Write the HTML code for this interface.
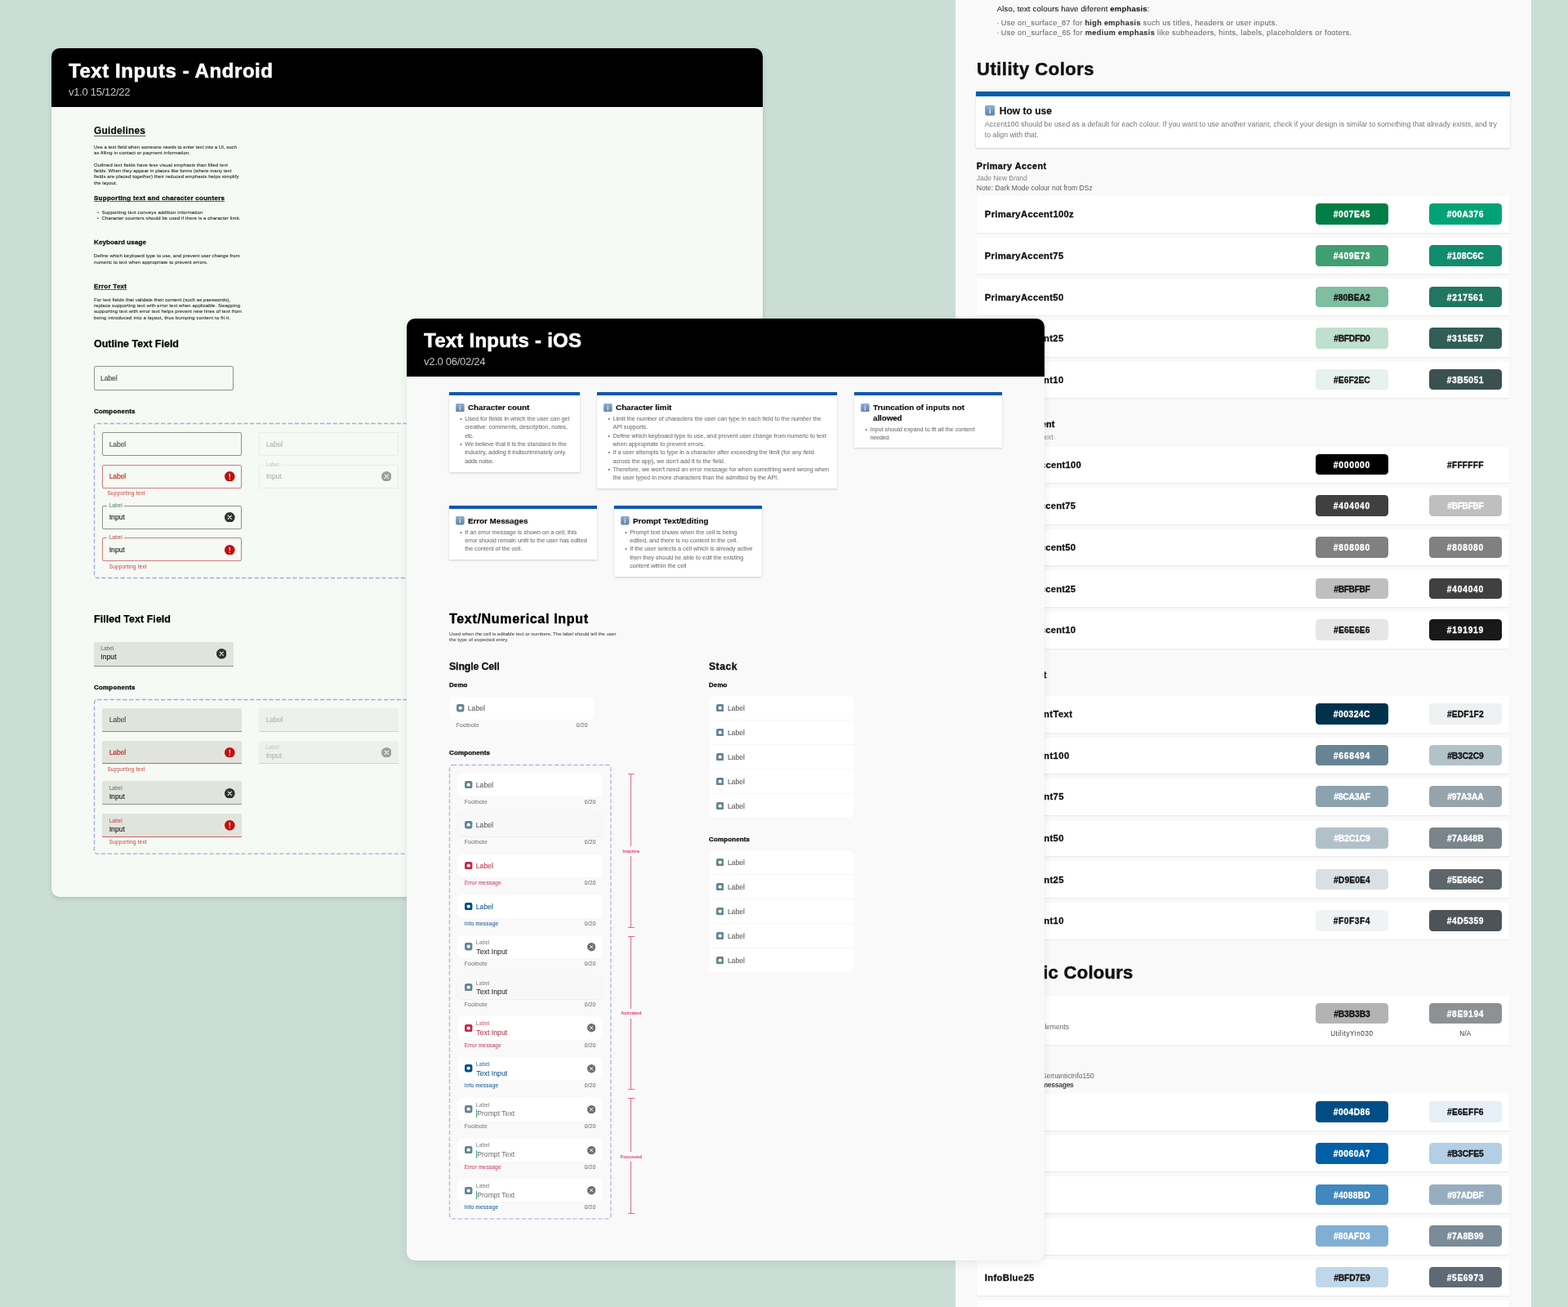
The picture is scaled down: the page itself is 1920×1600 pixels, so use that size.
<!DOCTYPE html>
<html lang="en"><head><meta charset="utf-8"><title>Text Inputs</title>
<style>
html,body{margin:0;padding:0}
body{width:1920px;height:1600px;position:relative;overflow:hidden;background:#caded5;font-family:"Liberation Sans",Arial,sans-serif;-webkit-font-smoothing:antialiased}
.panel{position:absolute;overflow:hidden}
.abs{position:absolute}
</style></head><body>

<div class="panel" style="left:63px;top:59px;width:871px;height:1039px;border-radius:10px;background:#f5faf4;box-shadow:0 2px 5px rgba(40,60,50,.18)">
<div style="position:absolute;left:-63px;top:-59px;width:1920px;height:1600px">
<div style="position:absolute;left:63.00px;top:59.00px;width:871.00px;height:72.00px;box-sizing:border-box;background:#000;"></div>
<div style="position:absolute;top:75.00px;font-size:24.00px;line-height:1;white-space:nowrap;color:#fff;letter-spacing:0.568px;font-weight:700;left:84.00px;-webkit-text-stroke:0.55px #fff;">Text Inputs - Android</div>
<div style="position:absolute;top:106.00px;font-size:13.00px;line-height:1;white-space:nowrap;color:#c4c4c4;letter-spacing:-0.274px;left:84.00px;">v1.0 15/12/22</div>
<div style="position:absolute;top:154.00px;font-size:12.00px;line-height:1;white-space:nowrap;color:#111;letter-spacing:0.184px;font-weight:700;left:115.00px;text-decoration:underline;text-decoration-thickness:1px;text-underline-offset:1.5px;text-decoration-color:rgba(0,0,0,.65);-webkit-text-stroke:0.2px #111;">Guidelines</div>
<div style="position:absolute;top:177.00px;font-size:6.00px;line-height:1;white-space:nowrap;color:#2b2d2a;letter-spacing:0.024px;left:115.00px;-webkit-text-stroke:0.10px #2b2d2a;">Use a text field when someone needs to enter text into a UI, such</div><div style="position:absolute;top:184.00px;font-size:6.00px;line-height:1;white-space:nowrap;color:#2b2d2a;letter-spacing:0.097px;left:115.00px;-webkit-text-stroke:0.10px #2b2d2a;">as filling in contact or payment information.</div><div style="position:absolute;top:199.00px;font-size:6.00px;line-height:1;white-space:nowrap;color:#2b2d2a;letter-spacing:0.074px;left:115.00px;-webkit-text-stroke:0.10px #2b2d2a;">Outlined text fields have less visual emphasis than filled text</div><div style="position:absolute;top:206.00px;font-size:6.00px;line-height:1;white-space:nowrap;color:#2b2d2a;letter-spacing:0.029px;left:115.00px;-webkit-text-stroke:0.10px #2b2d2a;">fields. When they appear in places like forms (where many text</div><div style="position:absolute;top:213.00px;font-size:6.00px;line-height:1;white-space:nowrap;color:#2b2d2a;letter-spacing:0.100px;left:115.00px;-webkit-text-stroke:0.10px #2b2d2a;">fields are placed together) their reduced emphasis helps simplify</div><div style="position:absolute;top:221.00px;font-size:6.00px;line-height:1;white-space:nowrap;color:#2b2d2a;letter-spacing:0.081px;left:115.00px;-webkit-text-stroke:0.10px #2b2d2a;">the layout.</div>
<div style="position:absolute;top:239.00px;font-size:8.00px;line-height:1;white-space:nowrap;color:#111;letter-spacing:0.275px;font-weight:700;left:115.00px;-webkit-text-stroke:0.30px #111;text-decoration:underline;text-decoration-thickness:1px;text-underline-offset:1px;text-decoration-color:rgba(0,0,0,.6);">Supporting text and character counters</div>
<div style="position:absolute;top:258.00px;font-size:5.80px;line-height:1;white-space:nowrap;color:#2a2c29;left:119.00px;">•</div>
<div style="position:absolute;top:265.00px;font-size:5.80px;line-height:1;white-space:nowrap;color:#2a2c29;left:119.00px;">•</div>
<div style="position:absolute;top:257.00px;font-size:6.00px;line-height:1;white-space:nowrap;color:#2b2d2a;letter-spacing:0.138px;left:124.40px;-webkit-text-stroke:0.10px #2b2d2a;">Supporting text conveys addition information</div><div style="position:absolute;top:264.00px;font-size:6.00px;line-height:1;white-space:nowrap;color:#2b2d2a;letter-spacing:0.078px;left:124.40px;-webkit-text-stroke:0.10px #2b2d2a;">Character counters should be used if there is a character limit.</div>
<div style="position:absolute;top:293.00px;font-size:8.00px;line-height:1;white-space:nowrap;color:#111;letter-spacing:0.135px;font-weight:700;left:115.00px;-webkit-text-stroke:0.30px #111;">Keyboard usage</div>
<div style="position:absolute;top:310.00px;font-size:6.00px;line-height:1;white-space:nowrap;color:#2b2d2a;letter-spacing:0.058px;left:115.00px;-webkit-text-stroke:0.10px #2b2d2a;">Define which keyboard type to use, and prevent user change from</div><div style="position:absolute;top:318.00px;font-size:6.00px;line-height:1;white-space:nowrap;color:#2b2d2a;letter-spacing:0.095px;left:115.00px;-webkit-text-stroke:0.10px #2b2d2a;">numeric to text when appropriate to prevent errors.</div>
<div style="position:absolute;top:347.00px;font-size:8.00px;line-height:1;white-space:nowrap;color:#111;letter-spacing:0.262px;font-weight:700;left:115.00px;-webkit-text-stroke:0.30px #111;text-decoration:underline;text-decoration-thickness:1px;text-underline-offset:1px;text-decoration-color:rgba(0,0,0,.6);">Error Text</div>
<div style="position:absolute;top:364.00px;font-size:6.00px;line-height:1;white-space:nowrap;color:#2b2d2a;letter-spacing:0.062px;left:115.00px;-webkit-text-stroke:0.10px #2b2d2a;">For text fields that validate their content (such as passwords),</div><div style="position:absolute;top:371.00px;font-size:6.00px;line-height:1;white-space:nowrap;color:#2b2d2a;letter-spacing:0.092px;left:115.00px;-webkit-text-stroke:0.10px #2b2d2a;">replace supporting text with error text when applicable. Swapping</div><div style="position:absolute;top:378.00px;font-size:6.00px;line-height:1;white-space:nowrap;color:#2b2d2a;letter-spacing:0.113px;left:115.00px;-webkit-text-stroke:0.10px #2b2d2a;">supporting text with error text helps prevent new lines of text from</div><div style="position:absolute;top:386.00px;font-size:6.00px;line-height:1;white-space:nowrap;color:#2b2d2a;letter-spacing:0.138px;left:115.00px;-webkit-text-stroke:0.10px #2b2d2a;">being introduced into a layout, thus bumping content to fit it.</div>
<div style="position:absolute;top:415.00px;font-size:12.50px;line-height:1;white-space:nowrap;color:#000;letter-spacing:0.003px;font-weight:700;left:115.00px;-webkit-text-stroke:0.25px #000;">Outline Text Field</div>
<div style="position:absolute;left:115.00px;top:448.20px;width:171.00px;height:29.40px;box-sizing:border-box;border:1px solid #8b948d;border-radius:2px;"></div>
<div style="position:absolute;top:459.00px;font-size:8.60px;line-height:1;white-space:nowrap;color:#4a4f4b;letter-spacing:-0.111px;left:123.00px;-webkit-text-stroke:0.15px #4a4f4b;">Label</div>
<div style="position:absolute;top:500.00px;font-size:8.00px;line-height:1;white-space:nowrap;color:#111;letter-spacing:0.179px;font-weight:700;left:115.00px;-webkit-text-stroke:0.30px #111;">Components</div>
<svg class="abs" style="left:115.00px;top:518.40px;overflow:visible" width="420.00" height="190.00"><rect x="0.5" y="0.5" width="419.00" height="189.00" rx="3.5" fill="none" stroke="#aea8dc" stroke-width="1.35" stroke-dasharray="5.3 2.5"/></svg>
<div style="position:absolute;left:125.40px;top:529.30px;width:170.40px;height:28.90px;box-sizing:border-box;border:1px solid #8b948d;border-radius:2px;"></div><div style="position:absolute;top:540.00px;font-size:8.60px;line-height:1;white-space:nowrap;color:#4a4f4b;letter-spacing:-0.111px;left:133.70px;-webkit-text-stroke:0.12px #4a4f4b;">Label</div>
<div style="position:absolute;left:125.40px;top:568.80px;width:170.40px;height:28.90px;box-sizing:border-box;border:1px solid #d27a7d;border-radius:2px;"></div><div style="position:absolute;top:579.00px;font-size:8.60px;line-height:1;white-space:nowrap;color:#b3261e;letter-spacing:-0.111px;left:133.70px;-webkit-text-stroke:0.12px #b3261e;">Label</div>
<svg class="abs" style="left:275.20px;top:576.90px;opacity:1" width="12.60" height="12.60" viewBox="0 0 20 20"><circle cx="10" cy="10" r="10" fill="#c1100f"/><rect x="9.05" y="4.4" width="1.9" height="7.4" rx="0.9" fill="#fff0f0"/><circle cx="10" cy="14.7" r="1.2" fill="#ffe4e4"/></svg>
<div style="position:absolute;top:601.00px;font-size:6.40px;line-height:1;white-space:nowrap;color:#c4403c;letter-spacing:0.211px;left:131.40px;">Supporting text</div>
<div style="position:absolute;left:125.40px;top:618.80px;width:170.40px;height:28.90px;box-sizing:border-box;border:1px solid #8b948d;border-radius:2px;"></div><div style="position:absolute;left:130.80px;top:617.80px;width:21.60px;height:3.00px;box-sizing:border-box;background:#f5faf4;"></div><div style="position:absolute;top:616.00px;font-size:6.50px;line-height:1;white-space:nowrap;color:#3d7f5c;letter-spacing:0.024px;left:133.70px;">Label</div><div style="position:absolute;top:629.00px;font-size:8.60px;line-height:1;white-space:nowrap;color:#1d1f1c;letter-spacing:0.043px;left:133.70px;-webkit-text-stroke:0.15px #1d1f1c;">Input</div>
<svg class="abs" style="left:275.20px;top:626.90px;opacity:1" width="12.60" height="12.60" viewBox="0 0 20 20"><circle cx="10" cy="10" r="10" fill="#2f3430"/><path d="M6.6 6.6 L13.4 13.4 M13.4 6.6 L6.6 13.4" stroke="#fff" stroke-width="1.6" stroke-linecap="round" fill="none"/></svg>
<div style="position:absolute;left:125.40px;top:658.40px;width:170.40px;height:28.90px;box-sizing:border-box;border:1px solid #d27a7d;border-radius:2px;"></div><div style="position:absolute;left:130.80px;top:657.40px;width:21.60px;height:3.00px;box-sizing:border-box;background:#f5faf4;"></div><div style="position:absolute;top:655.00px;font-size:6.50px;line-height:1;white-space:nowrap;color:#c4403c;letter-spacing:0.024px;left:133.70px;">Label</div><div style="position:absolute;top:669.00px;font-size:8.60px;line-height:1;white-space:nowrap;color:#1d1f1c;letter-spacing:0.043px;left:133.70px;-webkit-text-stroke:0.15px #1d1f1c;">Input</div>
<svg class="abs" style="left:275.20px;top:666.50px;opacity:1" width="12.60" height="12.60" viewBox="0 0 20 20"><circle cx="10" cy="10" r="10" fill="#c1100f"/><rect x="9.05" y="4.4" width="1.9" height="7.4" rx="0.9" fill="#fff0f0"/><circle cx="10" cy="14.7" r="1.2" fill="#ffe4e4"/></svg>
<div style="position:absolute;top:691.00px;font-size:6.40px;line-height:1;white-space:nowrap;color:#c4403c;letter-spacing:0.211px;left:133.70px;">Supporting text</div>
<div style="position:absolute;left:317.40px;top:529.30px;width:170.40px;height:28.90px;box-sizing:border-box;border:1px solid #e9ece7;border-radius:2px;"></div><div style="position:absolute;top:540.00px;font-size:8.60px;line-height:1;white-space:nowrap;color:#b2b5b1;letter-spacing:-0.111px;left:325.70px;-webkit-text-stroke:0.12px #b2b5b1;">Label</div>
<div style="position:absolute;left:317.40px;top:568.80px;width:170.40px;height:28.90px;box-sizing:border-box;border:1px solid #e9ece7;border-radius:2px;"></div><div style="position:absolute;left:322.80px;top:567.80px;width:21.60px;height:3.00px;box-sizing:border-box;background:#f5faf4;"></div><div style="position:absolute;top:566.00px;font-size:6.50px;line-height:1;white-space:nowrap;color:#c0c3bf;letter-spacing:0.024px;left:325.70px;">Label</div><div style="position:absolute;top:579.00px;font-size:8.60px;line-height:1;white-space:nowrap;color:#b2b5b1;letter-spacing:0.043px;left:325.70px;-webkit-text-stroke:0.15px #b2b5b1;">Input</div>
<svg class="abs" style="left:466.90px;top:576.90px;opacity:1" width="12.60" height="12.60" viewBox="0 0 20 20"><circle cx="10" cy="10" r="10" fill="#9da19d"/><path d="M6.6 6.6 L13.4 13.4 M13.4 6.6 L6.6 13.4" stroke="#fff" stroke-width="1.6" stroke-linecap="round" fill="none"/></svg>
<div style="position:absolute;top:752.00px;font-size:12.50px;line-height:1;white-space:nowrap;color:#000;letter-spacing:0.029px;font-weight:700;left:115.00px;-webkit-text-stroke:0.25px #000;">Filled Text Field</div>
<div style="position:absolute;left:115.00px;top:785.60px;width:171.00px;height:30.00px;box-sizing:border-box;background:#e0e4dd;border-bottom:1.4px solid #8c938d;border-radius:2px 2px 0 0;"></div><div style="position:absolute;top:791.00px;font-size:6.50px;line-height:1;white-space:nowrap;color:#3d7f5c;letter-spacing:0.024px;left:123.30px;">Label</div><div style="position:absolute;top:800.00px;font-size:8.60px;line-height:1;white-space:nowrap;color:#1d1f1c;letter-spacing:0.043px;left:123.30px;-webkit-text-stroke:0.15px #1d1f1c;">Input</div>
<svg class="abs" style="left:264.90px;top:794.20px;opacity:1" width="12.60" height="12.60" viewBox="0 0 20 20"><circle cx="10" cy="10" r="10" fill="#2f3430"/><path d="M6.6 6.6 L13.4 13.4 M13.4 6.6 L6.6 13.4" stroke="#fff" stroke-width="1.6" stroke-linecap="round" fill="none"/></svg>
<div style="position:absolute;top:838.00px;font-size:8.00px;line-height:1;white-space:nowrap;color:#111;letter-spacing:0.179px;font-weight:700;left:115.00px;-webkit-text-stroke:0.30px #111;">Components</div>
<svg class="abs" style="left:115.00px;top:856.20px;overflow:visible" width="420.00" height="189.60"><rect x="0.5" y="0.5" width="419.00" height="188.60" rx="3.5" fill="none" stroke="#aea8dc" stroke-width="1.35" stroke-dasharray="5.3 2.5"/></svg>
<div style="position:absolute;left:125.40px;top:867.00px;width:170.40px;height:28.90px;box-sizing:border-box;background:#e0e4dd;border-bottom:1.4px solid #8c938d;border-radius:2px 2px 0 0;"></div><div style="position:absolute;top:877.00px;font-size:8.60px;line-height:1;white-space:nowrap;color:#4a4f4b;letter-spacing:-0.111px;left:133.70px;-webkit-text-stroke:0.12px #4a4f4b;">Label</div>
<div style="position:absolute;left:125.40px;top:906.60px;width:170.40px;height:28.90px;box-sizing:border-box;background:#e0e4dd;border-bottom:1.4px solid #d2605e;border-radius:2px 2px 0 0;"></div><div style="position:absolute;top:917.00px;font-size:8.60px;line-height:1;white-space:nowrap;color:#b3261e;letter-spacing:-0.111px;left:133.70px;-webkit-text-stroke:0.12px #b3261e;">Label</div>
<svg class="abs" style="left:275.20px;top:914.50px;opacity:1" width="12.60" height="12.60" viewBox="0 0 20 20"><circle cx="10" cy="10" r="10" fill="#c1100f"/><rect x="9.05" y="4.4" width="1.9" height="7.4" rx="0.9" fill="#fff0f0"/><circle cx="10" cy="14.7" r="1.2" fill="#ffe4e4"/></svg>
<div style="position:absolute;top:939.00px;font-size:6.40px;line-height:1;white-space:nowrap;color:#c4403c;letter-spacing:0.211px;left:131.40px;">Supporting text</div>
<div style="position:absolute;left:125.40px;top:956.40px;width:170.40px;height:28.90px;box-sizing:border-box;background:#e0e4dd;border-bottom:1.4px solid #8c938d;border-radius:2px 2px 0 0;"></div><div style="position:absolute;top:962.00px;font-size:6.50px;line-height:1;white-space:nowrap;color:#3d7f5c;letter-spacing:0.024px;left:133.70px;">Label</div><div style="position:absolute;top:971.00px;font-size:8.60px;line-height:1;white-space:nowrap;color:#1d1f1c;letter-spacing:0.043px;left:133.70px;-webkit-text-stroke:0.15px #1d1f1c;">Input</div>
<svg class="abs" style="left:275.20px;top:964.50px;opacity:1" width="12.60" height="12.60" viewBox="0 0 20 20"><circle cx="10" cy="10" r="10" fill="#2f3430"/><path d="M6.6 6.6 L13.4 13.4 M13.4 6.6 L6.6 13.4" stroke="#fff" stroke-width="1.6" stroke-linecap="round" fill="none"/></svg>
<div style="position:absolute;left:125.40px;top:996.00px;width:170.40px;height:28.90px;box-sizing:border-box;background:#e0e4dd;border-bottom:1.4px solid #d2605e;border-radius:2px 2px 0 0;"></div><div style="position:absolute;top:1002.00px;font-size:6.50px;line-height:1;white-space:nowrap;color:#c4403c;letter-spacing:0.024px;left:133.70px;">Label</div><div style="position:absolute;top:1011.00px;font-size:8.60px;line-height:1;white-space:nowrap;color:#1d1f1c;letter-spacing:0.043px;left:133.70px;-webkit-text-stroke:0.15px #1d1f1c;">Input</div>
<svg class="abs" style="left:275.20px;top:1004.10px;opacity:1" width="12.60" height="12.60" viewBox="0 0 20 20"><circle cx="10" cy="10" r="10" fill="#c1100f"/><rect x="9.05" y="4.4" width="1.9" height="7.4" rx="0.9" fill="#fff0f0"/><circle cx="10" cy="14.7" r="1.2" fill="#ffe4e4"/></svg>
<div style="position:absolute;top:1028.00px;font-size:6.40px;line-height:1;white-space:nowrap;color:#c4403c;letter-spacing:0.211px;left:133.70px;">Supporting text</div>
<div style="position:absolute;left:317.40px;top:867.00px;width:170.40px;height:28.90px;box-sizing:border-box;background:#eef1eb;border-bottom:1.4px solid #d0d4cf;border-radius:2px 2px 0 0;"></div><div style="position:absolute;top:877.00px;font-size:8.60px;line-height:1;white-space:nowrap;color:#b2b5b1;letter-spacing:-0.111px;left:325.70px;-webkit-text-stroke:0.12px #b2b5b1;">Label</div>
<div style="position:absolute;left:317.40px;top:906.60px;width:170.40px;height:28.90px;box-sizing:border-box;background:#eef1eb;border-bottom:1.4px solid #d0d4cf;border-radius:2px 2px 0 0;"></div><div style="position:absolute;top:912.00px;font-size:6.50px;line-height:1;white-space:nowrap;color:#c0c3bf;letter-spacing:0.024px;left:325.70px;">Label</div><div style="position:absolute;top:921.00px;font-size:8.60px;line-height:1;white-space:nowrap;color:#b2b5b1;letter-spacing:0.043px;left:325.70px;-webkit-text-stroke:0.15px #b2b5b1;">Input</div>
<svg class="abs" style="left:466.90px;top:914.50px;opacity:1" width="12.60" height="12.60" viewBox="0 0 20 20"><circle cx="10" cy="10" r="10" fill="#9da19d"/><path d="M6.6 6.6 L13.4 13.4 M13.4 6.6 L6.6 13.4" stroke="#fff" stroke-width="1.6" stroke-linecap="round" fill="none"/></svg>
</div></div>
<div class="panel" style="left:1170px;top:0;width:705px;height:1600px;background:#f9f9f9">
<div style="position:absolute;left:-1170px;top:0;width:1920px;height:1600px">
<div style="position:absolute;left:1220.80px;top:6.00px;font-size:9.60px;line-height:1;white-space:pre;color:#222;letter-spacing:0.142px;-webkit-text-stroke:0.10px currentColor;">Also, text colours have diferent <span style="font-weight:700;color:#1a1a1a;">emphasis</span>:</div>
<div style="position:absolute;top:24.00px;font-size:9.30px;line-height:1;white-space:nowrap;color:#6e6e6e;left:1220.60px;">·</div>
<div style="position:absolute;top:36.00px;font-size:9.30px;line-height:1;white-space:nowrap;color:#6e6e6e;left:1220.60px;">·</div>
<div style="position:absolute;left:1225.80px;top:24.00px;font-size:9.20px;line-height:1;white-space:pre;color:#6e6e6e;letter-spacing:0.322px;-webkit-text-stroke:0.08px currentColor;">Use on_surface_87 for <span style="font-weight:700;color:#333;">high emphasis</span> such us titles, headers or user inputs.</div>
<div style="position:absolute;left:1225.80px;top:36.00px;font-size:9.20px;line-height:1;white-space:pre;color:#6e6e6e;letter-spacing:0.343px;-webkit-text-stroke:0.08px currentColor;">Use on_surface_65 for <span style="font-weight:700;color:#333;">medium emphasis</span> like subheaders, hints, labels, placeholders or footers.</div>
<div style="position:absolute;top:74.00px;font-size:22.00px;line-height:1;white-space:nowrap;color:#111;letter-spacing:0.508px;font-weight:700;left:1196.00px;-webkit-text-stroke:0.50px #111;">Utility Colors</div>
<div style="position:absolute;left:1195.00px;top:112.00px;width:654.30px;height:68.60px;box-sizing:border-box;background:#fff;box-shadow:0 1px 2px rgba(0,0,0,.16);"></div>
<div style="position:absolute;left:1195.00px;top:112.00px;width:654.30px;height:5.50px;box-sizing:border-box;background:#0060a7;"></div>
<svg class="abs" style="left:1205.80px;top:129.20px" width="12.50" height="12.50" viewBox="0 0 20 20"><defs><linearGradient id="ig" x1="0" y1="0" x2="0" y2="1"><stop offset="0" stop-color="#8daccb"/><stop offset="1" stop-color="#5d84ab"/></linearGradient></defs><rect x="0.5" y="0.5" width="19" height="19" rx="3.4" fill="url(#ig)" stroke="#6f93b8" stroke-width="1"/><rect x="8.9" y="7.6" width="2.2" height="8.6" fill="#dbe9f7"/><rect x="8.9" y="3.8" width="2.2" height="2.4" fill="#dbe9f7"/></svg>
<div style="position:absolute;top:130.00px;font-size:12.10px;line-height:1;white-space:nowrap;color:#111;letter-spacing:-0.026px;font-weight:700;left:1223.70px;-webkit-text-stroke:0.15px #111;">How to use</div>
<div style="position:absolute;top:148.00px;font-size:8.90px;line-height:1;white-space:nowrap;color:#787878;letter-spacing:-0.014px;left:1205.80px;">Accent100 should be used as a default for each colour. If you want to use another variant, check if your design is similar to something that already exists, and try</div>
<div style="position:absolute;top:161.00px;font-size:8.90px;line-height:1;white-space:nowrap;color:#787878;letter-spacing:-0.044px;left:1205.80px;">to align with that.</div>
<div style="position:absolute;top:198.00px;font-size:10.80px;line-height:1;white-space:nowrap;color:#111;letter-spacing:0.505px;font-weight:700;left:1195.80px;-webkit-text-stroke:0.35px #111;">Primary Accent</div>
<div style="position:absolute;top:214.00px;font-size:8.60px;line-height:1;white-space:nowrap;color:#8a8a8a;letter-spacing:-0.122px;left:1195.80px;">Jade New Brand</div>
<div style="position:absolute;top:226.00px;font-size:8.60px;line-height:1;white-space:nowrap;color:#5a5a5a;letter-spacing:-0.041px;left:1195.80px;">Note: Dark Mode colour not from DSz</div>
<div style="position:absolute;left:1196.30px;top:240.20px;width:652.00px;height:44.60px;box-sizing:border-box;background:#fff;box-shadow:0 1px 1.5px rgba(0,0,0,.065);"></div><div style="position:absolute;top:257.00px;font-size:11.30px;line-height:1;white-space:nowrap;color:#111;letter-spacing:0.295px;font-weight:700;left:1205.80px;-webkit-text-stroke:0.30px #111;">PrimaryAccent100z</div><div style="position:absolute;left:1611.20px;top:249.40px;width:88.40px;height:25.50px;box-sizing:border-box;background:#007E45;border-radius:4.5px;"></div><div style="position:absolute;top:258.00px;font-size:10.30px;line-height:1;white-space:nowrap;color:#fff;letter-spacing:0.560px;font-weight:700;left:1655.40px;transform:translateX(-50%);-webkit-text-stroke:0.30px #fff;">#007E45</div><div style="position:absolute;left:1750.20px;top:249.40px;width:88.40px;height:25.50px;box-sizing:border-box;background:#00A376;border-radius:4.5px;"></div><div style="position:absolute;top:258.00px;font-size:10.30px;line-height:1;white-space:nowrap;color:#fff;letter-spacing:0.465px;font-weight:700;left:1794.40px;transform:translateX(-50%);-webkit-text-stroke:0.30px #fff;">#00A376</div>
<div style="position:absolute;left:1196.30px;top:290.82px;width:652.00px;height:44.60px;box-sizing:border-box;background:#fff;box-shadow:0 1px 1.5px rgba(0,0,0,.065);"></div><div style="position:absolute;top:308.00px;font-size:11.30px;line-height:1;white-space:nowrap;color:#111;letter-spacing:0.290px;font-weight:700;left:1205.80px;-webkit-text-stroke:0.30px #111;">PrimaryAccent75</div><div style="position:absolute;left:1611.20px;top:300.02px;width:88.40px;height:25.50px;box-sizing:border-box;background:#409E73;border-radius:4.5px;"></div><div style="position:absolute;top:309.00px;font-size:10.30px;line-height:1;white-space:nowrap;color:#fff;letter-spacing:0.560px;font-weight:700;left:1655.40px;transform:translateX(-50%);-webkit-text-stroke:0.30px #fff;">#409E73</div><div style="position:absolute;left:1750.20px;top:300.02px;width:88.40px;height:25.50px;box-sizing:border-box;background:#108C6C;border-radius:4.5px;"></div><div style="position:absolute;top:309.00px;font-size:10.30px;line-height:1;white-space:nowrap;color:#fff;letter-spacing:0.180px;font-weight:700;left:1794.40px;transform:translateX(-50%);-webkit-text-stroke:0.30px #fff;">#108C6C</div>
<div style="position:absolute;left:1196.30px;top:341.44px;width:652.00px;height:44.60px;box-sizing:border-box;background:#fff;box-shadow:0 1px 1.5px rgba(0,0,0,.065);"></div><div style="position:absolute;top:359.00px;font-size:11.30px;line-height:1;white-space:nowrap;color:#111;letter-spacing:0.290px;font-weight:700;left:1205.80px;-webkit-text-stroke:0.30px #111;">PrimaryAccent50</div><div style="position:absolute;left:1611.20px;top:350.64px;width:88.40px;height:25.50px;box-sizing:border-box;background:#80BEA2;border-radius:4.5px;"></div><div style="position:absolute;top:360.00px;font-size:10.30px;line-height:1;white-space:nowrap;color:#111;letter-spacing:-0.010px;font-weight:700;left:1655.40px;transform:translateX(-50%);-webkit-text-stroke:0.30px #111;">#80BEA2</div><div style="position:absolute;left:1750.20px;top:350.64px;width:88.40px;height:25.50px;box-sizing:border-box;background:#217561;border-radius:4.5px;"></div><div style="position:absolute;top:360.00px;font-size:10.30px;line-height:1;white-space:nowrap;color:#fff;letter-spacing:0.750px;font-weight:700;left:1794.40px;transform:translateX(-50%);-webkit-text-stroke:0.30px #fff;">#217561</div>
<div style="position:absolute;left:1196.30px;top:392.06px;width:652.00px;height:44.60px;box-sizing:border-box;background:#fff;box-shadow:0 1px 1.5px rgba(0,0,0,.065);"></div><div style="position:absolute;top:409.00px;font-size:11.30px;line-height:1;white-space:nowrap;color:#111;letter-spacing:0.290px;font-weight:700;left:1205.80px;-webkit-text-stroke:0.30px #111;">PrimaryAccent25</div><div style="position:absolute;left:1611.20px;top:401.26px;width:88.40px;height:25.50px;box-sizing:border-box;background:#BFDFD0;border-radius:4.5px;"></div><div style="position:absolute;top:410.00px;font-size:10.30px;line-height:1;white-space:nowrap;color:#111;letter-spacing:-0.293px;font-weight:700;left:1655.40px;transform:translateX(-50%);-webkit-text-stroke:0.30px #111;">#BFDFD0</div><div style="position:absolute;left:1750.20px;top:401.26px;width:88.40px;height:25.50px;box-sizing:border-box;background:#315E57;border-radius:4.5px;"></div><div style="position:absolute;top:410.00px;font-size:10.30px;line-height:1;white-space:nowrap;color:#fff;letter-spacing:0.560px;font-weight:700;left:1794.40px;transform:translateX(-50%);-webkit-text-stroke:0.30px #fff;">#315E57</div>
<div style="position:absolute;left:1196.30px;top:442.68px;width:652.00px;height:44.60px;box-sizing:border-box;background:#fff;box-shadow:0 1px 1.5px rgba(0,0,0,.065);"></div><div style="position:absolute;top:460.00px;font-size:11.30px;line-height:1;white-space:nowrap;color:#111;letter-spacing:0.290px;font-weight:700;left:1205.80px;-webkit-text-stroke:0.30px #111;">PrimaryAccent10</div><div style="position:absolute;left:1611.20px;top:451.88px;width:88.40px;height:25.50px;box-sizing:border-box;background:#E6F2EC;border-radius:4.5px;"></div><div style="position:absolute;top:461.00px;font-size:10.30px;line-height:1;white-space:nowrap;color:#111;letter-spacing:-0.009px;font-weight:700;left:1655.40px;transform:translateX(-50%);-webkit-text-stroke:0.30px #111;">#E6F2EC</div><div style="position:absolute;left:1750.20px;top:451.88px;width:88.40px;height:25.50px;box-sizing:border-box;background:#3B5051;border-radius:4.5px;"></div><div style="position:absolute;top:461.00px;font-size:10.30px;line-height:1;white-space:nowrap;color:#fff;letter-spacing:0.465px;font-weight:700;left:1794.40px;transform:translateX(-50%);-webkit-text-stroke:0.30px #fff;">#3B5051</div>
<div style="position:absolute;top:514.00px;font-size:10.80px;line-height:1;white-space:nowrap;color:#111;letter-spacing:0.111px;font-weight:700;left:1195.80px;-webkit-text-stroke:0.35px #111;">Secondary Accent</div>
<div style="position:absolute;top:531.00px;font-size:8.60px;line-height:1;white-space:nowrap;color:#8a8a8a;letter-spacing:-0.067px;left:1195.80px;">Mainly used for body text</div>
<div style="position:absolute;left:1196.30px;top:546.60px;width:652.00px;height:44.60px;box-sizing:border-box;background:#fff;box-shadow:0 1px 1.5px rgba(0,0,0,.065);"></div><div style="position:absolute;top:564.00px;font-size:11.30px;line-height:1;white-space:nowrap;color:#111;letter-spacing:0.217px;font-weight:700;left:1205.80px;-webkit-text-stroke:0.30px #111;">SecondaryAccent100</div><div style="position:absolute;left:1611.20px;top:555.80px;width:88.40px;height:25.50px;box-sizing:border-box;background:#000000;border-radius:4.5px;"></div><div style="position:absolute;top:565.00px;font-size:10.30px;line-height:1;white-space:nowrap;color:#fff;letter-spacing:0.750px;font-weight:700;left:1655.40px;transform:translateX(-50%);-webkit-text-stroke:0.30px #fff;">#000000</div><div style="position:absolute;left:1750.20px;top:555.80px;width:88.40px;height:25.50px;box-sizing:border-box;background:#FFFFFF;border-radius:4.5px;"></div><div style="position:absolute;top:565.00px;font-size:10.30px;line-height:1;white-space:nowrap;color:#111;letter-spacing:0.187px;font-weight:700;left:1794.40px;transform:translateX(-50%);-webkit-text-stroke:0.30px #111;">#FFFFFF</div>
<div style="position:absolute;left:1196.30px;top:597.22px;width:652.00px;height:44.60px;box-sizing:border-box;background:#fff;box-shadow:0 1px 1.5px rgba(0,0,0,.065);"></div><div style="position:absolute;top:614.00px;font-size:11.30px;line-height:1;white-space:nowrap;color:#111;letter-spacing:0.204px;font-weight:700;left:1205.80px;-webkit-text-stroke:0.30px #111;">SecondaryAccent75</div><div style="position:absolute;left:1611.20px;top:606.42px;width:88.40px;height:25.50px;box-sizing:border-box;background:#404040;border-radius:4.5px;"></div><div style="position:absolute;top:615.00px;font-size:10.30px;line-height:1;white-space:nowrap;color:#fff;letter-spacing:0.750px;font-weight:700;left:1655.40px;transform:translateX(-50%);-webkit-text-stroke:0.30px #fff;">#404040</div><div style="position:absolute;left:1750.20px;top:606.42px;width:88.40px;height:25.50px;box-sizing:border-box;background:#BFBFBF;border-radius:4.5px;"></div><div style="position:absolute;top:615.00px;font-size:10.30px;line-height:1;white-space:nowrap;color:#fff;letter-spacing:-0.387px;font-weight:700;left:1794.40px;transform:translateX(-50%);-webkit-text-stroke:0.30px #fff;">#BFBFBF</div>
<div style="position:absolute;left:1196.30px;top:647.84px;width:652.00px;height:44.60px;box-sizing:border-box;background:#fff;box-shadow:0 1px 1.5px rgba(0,0,0,.065);"></div><div style="position:absolute;top:665.00px;font-size:11.30px;line-height:1;white-space:nowrap;color:#111;letter-spacing:0.204px;font-weight:700;left:1205.80px;-webkit-text-stroke:0.30px #111;">SecondaryAccent50</div><div style="position:absolute;left:1611.20px;top:657.04px;width:88.40px;height:25.50px;box-sizing:border-box;background:#808080;border-radius:4.5px;"></div><div style="position:absolute;top:666.00px;font-size:10.30px;line-height:1;white-space:nowrap;color:#fff;letter-spacing:0.750px;font-weight:700;left:1655.40px;transform:translateX(-50%);-webkit-text-stroke:0.30px #fff;">#808080</div><div style="position:absolute;left:1750.20px;top:657.04px;width:88.40px;height:25.50px;box-sizing:border-box;background:#808080;border-radius:4.5px;"></div><div style="position:absolute;top:666.00px;font-size:10.30px;line-height:1;white-space:nowrap;color:#fff;letter-spacing:0.750px;font-weight:700;left:1794.40px;transform:translateX(-50%);-webkit-text-stroke:0.30px #fff;">#808080</div>
<div style="position:absolute;left:1196.30px;top:698.46px;width:652.00px;height:44.60px;box-sizing:border-box;background:#fff;box-shadow:0 1px 1.5px rgba(0,0,0,.065);"></div><div style="position:absolute;top:716.00px;font-size:11.30px;line-height:1;white-space:nowrap;color:#111;letter-spacing:0.204px;font-weight:700;left:1205.80px;-webkit-text-stroke:0.30px #111;">SecondaryAccent25</div><div style="position:absolute;left:1611.20px;top:707.66px;width:88.40px;height:25.50px;box-sizing:border-box;background:#BFBFBF;border-radius:4.5px;"></div><div style="position:absolute;top:717.00px;font-size:10.30px;line-height:1;white-space:nowrap;color:#111;letter-spacing:-0.387px;font-weight:700;left:1655.40px;transform:translateX(-50%);-webkit-text-stroke:0.30px #111;">#BFBFBF</div><div style="position:absolute;left:1750.20px;top:707.66px;width:88.40px;height:25.50px;box-sizing:border-box;background:#404040;border-radius:4.5px;"></div><div style="position:absolute;top:717.00px;font-size:10.30px;line-height:1;white-space:nowrap;color:#fff;letter-spacing:0.750px;font-weight:700;left:1794.40px;transform:translateX(-50%);-webkit-text-stroke:0.30px #fff;">#404040</div>
<div style="position:absolute;left:1196.30px;top:749.08px;width:652.00px;height:44.60px;box-sizing:border-box;background:#fff;box-shadow:0 1px 1.5px rgba(0,0,0,.065);"></div><div style="position:absolute;top:766.00px;font-size:11.30px;line-height:1;white-space:nowrap;color:#111;letter-spacing:0.204px;font-weight:700;left:1205.80px;-webkit-text-stroke:0.30px #111;">SecondaryAccent10</div><div style="position:absolute;left:1611.20px;top:758.28px;width:88.40px;height:25.50px;box-sizing:border-box;background:#E6E6E6;border-radius:4.5px;"></div><div style="position:absolute;top:767.00px;font-size:10.30px;line-height:1;white-space:nowrap;color:#111;letter-spacing:0.179px;font-weight:700;left:1655.40px;transform:translateX(-50%);-webkit-text-stroke:0.30px #111;">#E6E6E6</div><div style="position:absolute;left:1750.20px;top:758.28px;width:88.40px;height:25.50px;box-sizing:border-box;background:#191919;border-radius:4.5px;"></div><div style="position:absolute;top:767.00px;font-size:10.30px;line-height:1;white-space:nowrap;color:#fff;letter-spacing:0.750px;font-weight:700;left:1794.40px;transform:translateX(-50%);-webkit-text-stroke:0.30px #fff;">#191919</div>
<div style="position:absolute;top:821.00px;font-size:10.80px;line-height:1;white-space:nowrap;color:#111;letter-spacing:0.576px;font-weight:700;left:1195.80px;-webkit-text-stroke:0.35px #111;">Tertiary Accent</div>
<div style="position:absolute;left:1196.30px;top:852.00px;width:652.00px;height:44.60px;box-sizing:border-box;background:#fff;box-shadow:0 1px 1.5px rgba(0,0,0,.065);"></div><div style="position:absolute;top:869.00px;font-size:11.30px;line-height:1;white-space:nowrap;color:#111;letter-spacing:0.383px;font-weight:700;left:1205.80px;-webkit-text-stroke:0.30px #111;">TertiaryAccentText</div><div style="position:absolute;left:1611.20px;top:861.20px;width:88.40px;height:25.50px;box-sizing:border-box;background:#00324C;border-radius:4.5px;"></div><div style="position:absolute;top:870.00px;font-size:10.30px;line-height:1;white-space:nowrap;color:#fff;letter-spacing:0.465px;font-weight:700;left:1655.40px;transform:translateX(-50%);-webkit-text-stroke:0.30px #fff;">#00324C</div><div style="position:absolute;left:1750.20px;top:861.20px;width:88.40px;height:25.50px;box-sizing:border-box;background:#EDF1F2;border-radius:4.5px;"></div><div style="position:absolute;top:870.00px;font-size:10.30px;line-height:1;white-space:nowrap;color:#111;letter-spacing:0.087px;font-weight:700;left:1794.40px;transform:translateX(-50%);-webkit-text-stroke:0.30px #111;">#EDF1F2</div>
<div style="position:absolute;left:1196.30px;top:902.62px;width:652.00px;height:44.60px;box-sizing:border-box;background:#fff;box-shadow:0 1px 1.5px rgba(0,0,0,.065);"></div><div style="position:absolute;top:920.00px;font-size:11.30px;line-height:1;white-space:nowrap;color:#111;letter-spacing:0.391px;font-weight:700;left:1205.80px;-webkit-text-stroke:0.30px #111;">TertiaryAccent100</div><div style="position:absolute;left:1611.20px;top:911.82px;width:88.40px;height:25.50px;box-sizing:border-box;background:#668494;border-radius:4.5px;"></div><div style="position:absolute;top:921.00px;font-size:10.30px;line-height:1;white-space:nowrap;color:#fff;letter-spacing:0.750px;font-weight:700;left:1655.40px;transform:translateX(-50%);-webkit-text-stroke:0.30px #fff;">#668494</div><div style="position:absolute;left:1750.20px;top:911.82px;width:88.40px;height:25.50px;box-sizing:border-box;background:#B3C2C9;border-radius:4.5px;"></div><div style="position:absolute;top:921.00px;font-size:10.30px;line-height:1;white-space:nowrap;color:#111;letter-spacing:-0.105px;font-weight:700;left:1794.40px;transform:translateX(-50%);-webkit-text-stroke:0.30px #111;">#B3C2C9</div>
<div style="position:absolute;left:1196.30px;top:953.24px;width:652.00px;height:44.60px;box-sizing:border-box;background:#fff;box-shadow:0 1px 1.5px rgba(0,0,0,.065);"></div><div style="position:absolute;top:970.00px;font-size:11.30px;line-height:1;white-space:nowrap;color:#111;letter-spacing:0.396px;font-weight:700;left:1205.80px;-webkit-text-stroke:0.30px #111;">TertiaryAccent75</div><div style="position:absolute;left:1611.20px;top:962.44px;width:88.40px;height:25.50px;box-sizing:border-box;background:#8CA3AF;border-radius:4.5px;"></div><div style="position:absolute;top:971.00px;font-size:10.30px;line-height:1;white-space:nowrap;color:#fff;letter-spacing:-0.199px;font-weight:700;left:1655.40px;transform:translateX(-50%);-webkit-text-stroke:0.30px #fff;">#8CA3AF</div><div style="position:absolute;left:1750.20px;top:962.44px;width:88.40px;height:25.50px;box-sizing:border-box;background:#97A3AA;border-radius:4.5px;"></div><div style="position:absolute;top:971.00px;font-size:10.30px;line-height:1;white-space:nowrap;color:#fff;letter-spacing:-0.105px;font-weight:700;left:1794.40px;transform:translateX(-50%);-webkit-text-stroke:0.30px #fff;">#97A3AA</div>
<div style="position:absolute;left:1196.30px;top:1003.86px;width:652.00px;height:44.60px;box-sizing:border-box;background:#fff;box-shadow:0 1px 1.5px rgba(0,0,0,.065);"></div><div style="position:absolute;top:1021.00px;font-size:11.30px;line-height:1;white-space:nowrap;color:#111;letter-spacing:0.396px;font-weight:700;left:1205.80px;-webkit-text-stroke:0.30px #111;">TertiaryAccent50</div><div style="position:absolute;left:1611.20px;top:1013.06px;width:88.40px;height:25.50px;box-sizing:border-box;background:#B2C1C9;border-radius:4.5px;"></div><div style="position:absolute;top:1022.00px;font-size:10.30px;line-height:1;white-space:nowrap;color:#fff;letter-spacing:-0.105px;font-weight:700;left:1655.40px;transform:translateX(-50%);-webkit-text-stroke:0.30px #fff;">#B2C1C9</div><div style="position:absolute;left:1750.20px;top:1013.06px;width:88.40px;height:25.50px;box-sizing:border-box;background:#7A848B;border-radius:4.5px;"></div><div style="position:absolute;top:1022.00px;font-size:10.30px;line-height:1;white-space:nowrap;color:#fff;letter-spacing:0.180px;font-weight:700;left:1794.40px;transform:translateX(-50%);-webkit-text-stroke:0.30px #fff;">#7A848B</div>
<div style="position:absolute;left:1196.30px;top:1054.48px;width:652.00px;height:44.60px;box-sizing:border-box;background:#fff;box-shadow:0 1px 1.5px rgba(0,0,0,.065);"></div><div style="position:absolute;top:1072.00px;font-size:11.30px;line-height:1;white-space:nowrap;color:#111;letter-spacing:0.396px;font-weight:700;left:1205.80px;-webkit-text-stroke:0.30px #111;">TertiaryAccent25</div><div style="position:absolute;left:1611.20px;top:1063.68px;width:88.40px;height:25.50px;box-sizing:border-box;background:#D9E0E4;border-radius:4.5px;"></div><div style="position:absolute;top:1073.00px;font-size:10.30px;line-height:1;white-space:nowrap;color:#111;letter-spacing:0.084px;font-weight:700;left:1655.40px;transform:translateX(-50%);-webkit-text-stroke:0.30px #111;">#D9E0E4</div><div style="position:absolute;left:1750.20px;top:1063.68px;width:88.40px;height:25.50px;box-sizing:border-box;background:#5E666C;border-radius:4.5px;"></div><div style="position:absolute;top:1073.00px;font-size:10.30px;line-height:1;white-space:nowrap;color:#fff;letter-spacing:0.275px;font-weight:700;left:1794.40px;transform:translateX(-50%);-webkit-text-stroke:0.30px #fff;">#5E666C</div>
<div style="position:absolute;left:1196.30px;top:1105.10px;width:652.00px;height:44.60px;box-sizing:border-box;background:#fff;box-shadow:0 1px 1.5px rgba(0,0,0,.065);"></div><div style="position:absolute;top:1122.00px;font-size:11.30px;line-height:1;white-space:nowrap;color:#111;letter-spacing:0.396px;font-weight:700;left:1205.80px;-webkit-text-stroke:0.30px #111;">TertiaryAccent10</div><div style="position:absolute;left:1611.20px;top:1114.30px;width:88.40px;height:25.50px;box-sizing:border-box;background:#F0F3F4;border-radius:4.5px;"></div><div style="position:absolute;top:1123.00px;font-size:10.30px;line-height:1;white-space:nowrap;color:#111;letter-spacing:0.468px;font-weight:700;left:1655.40px;transform:translateX(-50%);-webkit-text-stroke:0.30px #111;">#F0F3F4</div><div style="position:absolute;left:1750.20px;top:1114.30px;width:88.40px;height:25.50px;box-sizing:border-box;background:#4D5359;border-radius:4.5px;"></div><div style="position:absolute;top:1123.00px;font-size:10.30px;line-height:1;white-space:nowrap;color:#fff;letter-spacing:0.465px;font-weight:700;left:1794.40px;transform:translateX(-50%);-webkit-text-stroke:0.30px #fff;">#4D5359</div>
<div style="position:absolute;top:1180.00px;font-size:22.00px;line-height:1;white-space:nowrap;color:#111;letter-spacing:0.284px;font-weight:700;left:1196.00px;-webkit-text-stroke:0.50px #111;">Semantic Colours</div>
<div style="position:absolute;left:1196.30px;top:1218.70px;width:652.00px;height:60.60px;box-sizing:border-box;background:#fff;box-shadow:0 1px 1.5px rgba(0,0,0,.065);"></div><div style="position:absolute;top:1236.00px;font-size:11.30px;line-height:1;white-space:nowrap;color:#111;font-weight:700;left:1205.80px;-webkit-text-stroke:0.30px #111;">Disabled</div><div style="position:absolute;left:1611.20px;top:1227.90px;width:88.40px;height:25.50px;box-sizing:border-box;background:#B3B3B3;border-radius:4.5px;"></div><div style="position:absolute;top:1237.00px;font-size:10.30px;line-height:1;white-space:nowrap;color:#111;letter-spacing:-0.105px;font-weight:700;left:1655.40px;transform:translateX(-50%);-webkit-text-stroke:0.30px #111;">#B3B3B3</div><div style="position:absolute;left:1750.20px;top:1227.90px;width:88.40px;height:25.50px;box-sizing:border-box;background:#8E9194;border-radius:4.5px;"></div><div style="position:absolute;top:1237.00px;font-size:10.30px;line-height:1;white-space:nowrap;color:#fff;letter-spacing:0.560px;font-weight:700;left:1794.40px;transform:translateX(-50%);-webkit-text-stroke:0.30px #fff;">#8E9194</div>
<div style="position:absolute;top:1253.00px;font-size:8.60px;line-height:1;white-space:nowrap;color:#666;letter-spacing:-0.033px;left:1205.80px;">Used for disabled elements</div>
<div style="position:absolute;top:1262.00px;font-size:8.20px;line-height:1;white-space:nowrap;color:#333;letter-spacing:0.561px;left:1655.40px;transform:translateX(-50%);">UtilityYin030</div>
<div style="position:absolute;top:1262.00px;font-size:8.20px;line-height:1;white-space:nowrap;color:#333;letter-spacing:0.165px;left:1794.40px;transform:translateX(-50%);">N/A</div>
<div style="position:absolute;top:1298.00px;font-size:11.60px;line-height:1;white-space:nowrap;color:#111;font-weight:700;left:1195.80px;-webkit-text-stroke:0.30px #111;">Info Blue</div>
<div style="position:absolute;top:1313.00px;font-size:8.60px;line-height:1;white-space:nowrap;color:#666;letter-spacing:-0.033px;left:1195.80px;">Previously known as SemanticInfo150</div>
<div style="position:absolute;top:1324.00px;font-size:8.60px;line-height:1;white-space:nowrap;color:#444;letter-spacing:-0.301px;font-weight:700;left:1195.80px;">Used for informative messages</div>
<div style="position:absolute;left:1196.30px;top:1339.20px;width:652.00px;height:44.60px;box-sizing:border-box;background:#fff;box-shadow:0 1px 1.5px rgba(0,0,0,.065);"></div><div style="position:absolute;top:1356.00px;font-size:11.30px;line-height:1;white-space:nowrap;color:#111;font-weight:700;left:1205.80px;-webkit-text-stroke:0.30px #111;">InfoBlueText</div><div style="position:absolute;left:1611.20px;top:1348.40px;width:88.40px;height:25.50px;box-sizing:border-box;background:#004D86;border-radius:4.5px;"></div><div style="position:absolute;top:1357.00px;font-size:10.30px;line-height:1;white-space:nowrap;color:#fff;letter-spacing:0.465px;font-weight:700;left:1655.40px;transform:translateX(-50%);-webkit-text-stroke:0.30px #fff;">#004D86</div><div style="position:absolute;left:1750.20px;top:1348.40px;width:88.40px;height:25.50px;box-sizing:border-box;background:#E6EFF6;border-radius:4.5px;"></div><div style="position:absolute;top:1357.00px;font-size:10.30px;line-height:1;white-space:nowrap;color:#111;letter-spacing:0.182px;font-weight:700;left:1794.40px;transform:translateX(-50%);-webkit-text-stroke:0.30px #111;">#E6EFF6</div>
<div style="position:absolute;left:1196.30px;top:1389.82px;width:652.00px;height:44.60px;box-sizing:border-box;background:#fff;box-shadow:0 1px 1.5px rgba(0,0,0,.065);"></div><div style="position:absolute;top:1407.00px;font-size:11.30px;line-height:1;white-space:nowrap;color:#111;font-weight:700;left:1205.80px;-webkit-text-stroke:0.30px #111;">InfoBlue100</div><div style="position:absolute;left:1611.20px;top:1399.02px;width:88.40px;height:25.50px;box-sizing:border-box;background:#0060A7;border-radius:4.5px;"></div><div style="position:absolute;top:1408.00px;font-size:10.30px;line-height:1;white-space:nowrap;color:#fff;letter-spacing:0.465px;font-weight:700;left:1655.40px;transform:translateX(-50%);-webkit-text-stroke:0.30px #fff;">#0060A7</div><div style="position:absolute;left:1750.20px;top:1399.02px;width:88.40px;height:25.50px;box-sizing:border-box;background:#B3CFE5;border-radius:4.5px;"></div><div style="position:absolute;top:1408.00px;font-size:10.30px;line-height:1;white-space:nowrap;color:#111;letter-spacing:-0.104px;font-weight:700;left:1794.40px;transform:translateX(-50%);-webkit-text-stroke:0.30px #111;">#B3CFE5</div>
<div style="position:absolute;left:1196.30px;top:1440.44px;width:652.00px;height:44.60px;box-sizing:border-box;background:#fff;box-shadow:0 1px 1.5px rgba(0,0,0,.065);"></div><div style="position:absolute;top:1458.00px;font-size:11.30px;line-height:1;white-space:nowrap;color:#111;font-weight:700;left:1205.80px;-webkit-text-stroke:0.30px #111;">InfoBlue75</div><div style="position:absolute;left:1611.20px;top:1449.64px;width:88.40px;height:25.50px;box-sizing:border-box;background:#4088BD;border-radius:4.5px;"></div><div style="position:absolute;top:1459.00px;font-size:10.30px;line-height:1;white-space:nowrap;color:#fff;letter-spacing:0.180px;font-weight:700;left:1655.40px;transform:translateX(-50%);-webkit-text-stroke:0.30px #fff;">#4088BD</div><div style="position:absolute;left:1750.20px;top:1449.64px;width:88.40px;height:25.50px;box-sizing:border-box;background:#97ADBF;border-radius:4.5px;"></div><div style="position:absolute;top:1459.00px;font-size:10.30px;line-height:1;white-space:nowrap;color:#fff;letter-spacing:-0.199px;font-weight:700;left:1794.40px;transform:translateX(-50%);-webkit-text-stroke:0.30px #fff;">#97ADBF</div>
<div style="position:absolute;left:1196.30px;top:1491.06px;width:652.00px;height:44.60px;box-sizing:border-box;background:#fff;box-shadow:0 1px 1.5px rgba(0,0,0,.065);"></div><div style="position:absolute;top:1508.00px;font-size:11.30px;line-height:1;white-space:nowrap;color:#111;font-weight:700;left:1205.80px;-webkit-text-stroke:0.30px #111;">InfoBlue50</div><div style="position:absolute;left:1611.20px;top:1500.26px;width:88.40px;height:25.50px;box-sizing:border-box;background:#80AFD3;border-radius:4.5px;"></div><div style="position:absolute;top:1509.00px;font-size:10.30px;line-height:1;white-space:nowrap;color:#fff;letter-spacing:0.086px;font-weight:700;left:1655.40px;transform:translateX(-50%);-webkit-text-stroke:0.30px #fff;">#80AFD3</div><div style="position:absolute;left:1750.20px;top:1500.26px;width:88.40px;height:25.50px;box-sizing:border-box;background:#7A8B99;border-radius:4.5px;"></div><div style="position:absolute;top:1509.00px;font-size:10.30px;line-height:1;white-space:nowrap;color:#fff;letter-spacing:0.180px;font-weight:700;left:1794.40px;transform:translateX(-50%);-webkit-text-stroke:0.30px #fff;">#7A8B99</div>
<div style="position:absolute;left:1196.30px;top:1541.68px;width:652.00px;height:44.60px;box-sizing:border-box;background:#fff;box-shadow:0 1px 1.5px rgba(0,0,0,.065);"></div><div style="position:absolute;top:1559.00px;font-size:11.30px;line-height:1;white-space:nowrap;color:#111;letter-spacing:0.304px;font-weight:700;left:1205.80px;-webkit-text-stroke:0.30px #111;">InfoBlue25</div><div style="position:absolute;left:1611.20px;top:1550.88px;width:88.40px;height:25.50px;box-sizing:border-box;background:#BFD7E9;border-radius:4.5px;"></div><div style="position:absolute;top:1560.00px;font-size:10.30px;line-height:1;white-space:nowrap;color:#111;letter-spacing:-0.104px;font-weight:700;left:1655.40px;transform:translateX(-50%);-webkit-text-stroke:0.30px #111;">#BFD7E9</div><div style="position:absolute;left:1750.20px;top:1550.88px;width:88.40px;height:25.50px;box-sizing:border-box;background:#5E6973;border-radius:4.5px;"></div><div style="position:absolute;top:1560.00px;font-size:10.30px;line-height:1;white-space:nowrap;color:#fff;letter-spacing:0.560px;font-weight:700;left:1794.40px;transform:translateX(-50%);-webkit-text-stroke:0.30px #fff;">#5E6973</div>
<div style="position:absolute;left:1196.30px;top:1592.30px;width:652.00px;height:44.60px;box-sizing:border-box;background:#fff;box-shadow:0 1px 1.5px rgba(0,0,0,.065);"></div><div style="position:absolute;top:1609.00px;font-size:11.30px;line-height:1;white-space:nowrap;color:#111;font-weight:700;left:1205.80px;-webkit-text-stroke:0.30px #111;">InfoBlue10</div><div style="position:absolute;left:1611.20px;top:1601.50px;width:88.40px;height:25.50px;box-sizing:border-box;background:#E6EFF6;border-radius:4.5px;"></div><div style="position:absolute;top:1610.00px;font-size:10.30px;line-height:1;white-space:nowrap;color:#111;letter-spacing:0.182px;font-weight:700;left:1655.40px;transform:translateX(-50%);-webkit-text-stroke:0.30px #111;">#E6EFF6</div><div style="position:absolute;left:1750.20px;top:1601.50px;width:88.40px;height:25.50px;box-sizing:border-box;background:#4D5359;border-radius:4.5px;"></div><div style="position:absolute;top:1610.00px;font-size:10.30px;line-height:1;white-space:nowrap;color:#fff;letter-spacing:0.465px;font-weight:700;left:1794.40px;transform:translateX(-50%);-webkit-text-stroke:0.30px #fff;">#4D5359</div>
</div></div>
<div class="abs" style="left:498px;top:390px;width:781px;height:1153px;border-radius:10px;box-shadow:0 3px 12px rgba(0,0,0,.075),0 0 2px rgba(0,0,0,.05)"></div>
<div class="panel" style="left:498px;top:390px;width:781px;height:1153px;border-radius:10px;background:#f9f9f9">
<div style="position:absolute;left:-498px;top:-390px;width:1920px;height:1600px">
<div style="position:absolute;left:498.00px;top:390.00px;width:781.00px;height:71.00px;box-sizing:border-box;background:#000;"></div>
<div style="position:absolute;top:405.00px;font-size:24.00px;line-height:1;white-space:nowrap;color:#fff;letter-spacing:0.256px;font-weight:700;left:519.00px;-webkit-text-stroke:0.55px #fff;">Text Inputs - iOS</div>
<div style="position:absolute;top:436.00px;font-size:13.00px;line-height:1;white-space:nowrap;color:#c4c4c4;letter-spacing:-0.274px;left:519.00px;">v2.0 06/02/24</div>
<div style="position:absolute;left:550.00px;top:480.00px;width:160.30px;height:97.50px;box-sizing:border-box;background:#fff;box-shadow:0 1px 2.5px rgba(0,0,0,.17);"></div><div style="position:absolute;left:550.00px;top:480.00px;width:160.30px;height:4.30px;box-sizing:border-box;background:#0b5aa6;"></div><svg class="abs" style="left:558.20px;top:493.60px" width="10.60" height="10.60" viewBox="0 0 20 20"><defs><linearGradient id="ig" x1="0" y1="0" x2="0" y2="1"><stop offset="0" stop-color="#8daccb"/><stop offset="1" stop-color="#5d84ab"/></linearGradient></defs><rect x="0.5" y="0.5" width="19" height="19" rx="3.4" fill="url(#ig)" stroke="#6f93b8" stroke-width="1"/><rect x="8.9" y="7.6" width="2.2" height="8.6" fill="#dbe9f7"/><rect x="8.9" y="3.8" width="2.2" height="2.4" fill="#dbe9f7"/></svg><div style="position:absolute;top:494.00px;font-size:9.80px;line-height:1;white-space:nowrap;color:#111;letter-spacing:0.025px;font-weight:700;left:572.90px;-webkit-text-stroke:0.20px #111;">Character count</div><div style="position:absolute;top:509.00px;font-size:7.25px;line-height:1;white-space:nowrap;color:#727272;left:563.30px;">•</div><div style="position:absolute;top:509.00px;font-size:7.25px;line-height:1;white-space:nowrap;color:#727272;letter-spacing:-0.006px;left:569.20px;-webkit-text-stroke:0.08px #727272;">Used for fields in which the user can get</div><div style="position:absolute;top:519.00px;font-size:7.25px;line-height:1;white-space:nowrap;color:#727272;letter-spacing:0.002px;left:569.20px;-webkit-text-stroke:0.08px #727272;">creative: comments, description, notes,</div><div style="position:absolute;top:530.00px;font-size:7.25px;line-height:1;white-space:nowrap;color:#727272;letter-spacing:-0.295px;left:569.20px;-webkit-text-stroke:0.08px #727272;">etc.</div><div style="position:absolute;top:540.00px;font-size:7.25px;line-height:1;white-space:nowrap;color:#727272;left:563.30px;">•</div><div style="position:absolute;top:540.00px;font-size:7.25px;line-height:1;white-space:nowrap;color:#727272;letter-spacing:-0.008px;left:569.20px;-webkit-text-stroke:0.08px #727272;">We believe that it is the standard in the</div><div style="position:absolute;top:550.00px;font-size:7.25px;line-height:1;white-space:nowrap;color:#727272;letter-spacing:-0.009px;left:569.20px;-webkit-text-stroke:0.08px #727272;">industry, adding it indiscriminately only</div><div style="position:absolute;top:561.00px;font-size:7.25px;line-height:1;white-space:nowrap;color:#727272;letter-spacing:-0.128px;left:569.20px;-webkit-text-stroke:0.08px #727272;">adds noise.</div>
<div style="position:absolute;left:731.20px;top:480.00px;width:294.30px;height:118.00px;box-sizing:border-box;background:#fff;box-shadow:0 1px 2.5px rgba(0,0,0,.17);"></div><div style="position:absolute;left:731.20px;top:480.00px;width:294.30px;height:4.30px;box-sizing:border-box;background:#0b5aa6;"></div><svg class="abs" style="left:739.40px;top:493.60px" width="10.60" height="10.60" viewBox="0 0 20 20"><defs><linearGradient id="ig" x1="0" y1="0" x2="0" y2="1"><stop offset="0" stop-color="#8daccb"/><stop offset="1" stop-color="#5d84ab"/></linearGradient></defs><rect x="0.5" y="0.5" width="19" height="19" rx="3.4" fill="url(#ig)" stroke="#6f93b8" stroke-width="1"/><rect x="8.9" y="7.6" width="2.2" height="8.6" fill="#dbe9f7"/><rect x="8.9" y="3.8" width="2.2" height="2.4" fill="#dbe9f7"/></svg><div style="position:absolute;top:494.00px;font-size:9.80px;line-height:1;white-space:nowrap;color:#111;letter-spacing:-0.023px;font-weight:700;left:754.10px;-webkit-text-stroke:0.20px #111;">Character limit</div><div style="position:absolute;top:509.00px;font-size:7.25px;line-height:1;white-space:nowrap;color:#727272;left:744.50px;">•</div><div style="position:absolute;top:509.00px;font-size:7.25px;line-height:1;white-space:nowrap;color:#727272;letter-spacing:0.002px;left:750.40px;-webkit-text-stroke:0.08px #727272;">Limit the number of characters the user can type in each field to the number the</div><div style="position:absolute;top:519.00px;font-size:7.25px;line-height:1;white-space:nowrap;color:#727272;letter-spacing:-0.060px;left:750.40px;-webkit-text-stroke:0.08px #727272;">API supports.</div><div style="position:absolute;top:530.00px;font-size:7.25px;line-height:1;white-space:nowrap;color:#727272;left:744.50px;">•</div><div style="position:absolute;top:530.00px;font-size:7.25px;line-height:1;white-space:nowrap;color:#727272;letter-spacing:0.002px;left:750.40px;-webkit-text-stroke:0.08px #727272;">Define which keyboard type to use, and prevent user change from numeric to text</div><div style="position:absolute;top:540.00px;font-size:7.25px;line-height:1;white-space:nowrap;color:#727272;letter-spacing:-0.013px;left:750.40px;-webkit-text-stroke:0.08px #727272;">when appropriate to prevent errors.</div><div style="position:absolute;top:550.00px;font-size:7.25px;line-height:1;white-space:nowrap;color:#727272;left:744.50px;">•</div><div style="position:absolute;top:550.00px;font-size:7.25px;line-height:1;white-space:nowrap;color:#727272;letter-spacing:0.001px;left:750.40px;-webkit-text-stroke:0.08px #727272;">If a user attempts to type in a character after exceeding the limit (for any field</div><div style="position:absolute;top:561.00px;font-size:7.25px;line-height:1;white-space:nowrap;color:#727272;letter-spacing:-0.011px;left:750.40px;-webkit-text-stroke:0.08px #727272;">across the app), we don't add it to the field.</div><div style="position:absolute;top:571.00px;font-size:7.25px;line-height:1;white-space:nowrap;color:#727272;left:744.50px;">•</div><div style="position:absolute;top:571.00px;font-size:7.25px;line-height:1;white-space:nowrap;color:#727272;letter-spacing:0.007px;left:750.40px;-webkit-text-stroke:0.08px #727272;">Therefore, we won't need an error message for when something went wrong when</div><div style="position:absolute;top:581.00px;font-size:7.25px;line-height:1;white-space:nowrap;color:#727272;letter-spacing:-0.002px;left:750.40px;-webkit-text-stroke:0.08px #727272;">the user typed in more characters than the admitted by the API.</div>
<div style="position:absolute;left:1046.20px;top:480.00px;width:181.00px;height:68.00px;box-sizing:border-box;background:#fff;box-shadow:0 1px 2.5px rgba(0,0,0,.17);"></div><div style="position:absolute;left:1046.20px;top:480.00px;width:181.00px;height:4.30px;box-sizing:border-box;background:#0b5aa6;"></div><svg class="abs" style="left:1054.40px;top:493.60px" width="10.60" height="10.60" viewBox="0 0 20 20"><defs><linearGradient id="ig" x1="0" y1="0" x2="0" y2="1"><stop offset="0" stop-color="#8daccb"/><stop offset="1" stop-color="#5d84ab"/></linearGradient></defs><rect x="0.5" y="0.5" width="19" height="19" rx="3.4" fill="url(#ig)" stroke="#6f93b8" stroke-width="1"/><rect x="8.9" y="7.6" width="2.2" height="8.6" fill="#dbe9f7"/><rect x="8.9" y="3.8" width="2.2" height="2.4" fill="#dbe9f7"/></svg><div style="position:absolute;top:494.00px;font-size:9.80px;line-height:1;white-space:nowrap;color:#111;letter-spacing:-0.006px;font-weight:700;left:1069.10px;-webkit-text-stroke:0.20px #111;">Truncation of inputs not</div><div style="position:absolute;top:507.00px;font-size:9.80px;line-height:1;white-space:nowrap;color:#111;letter-spacing:-0.074px;font-weight:700;left:1069.10px;-webkit-text-stroke:0.20px #111;">allowed</div><div style="position:absolute;top:522.00px;font-size:7.25px;line-height:1;white-space:nowrap;color:#727272;left:1059.50px;">•</div><div style="position:absolute;top:522.00px;font-size:7.25px;line-height:1;white-space:nowrap;color:#727272;letter-spacing:-0.004px;left:1065.40px;-webkit-text-stroke:0.08px #727272;">Input should expand to fit all the content</div><div style="position:absolute;top:532.00px;font-size:7.25px;line-height:1;white-space:nowrap;color:#727272;letter-spacing:-0.251px;left:1065.40px;-webkit-text-stroke:0.08px #727272;">needed.</div>
<div style="position:absolute;left:550.00px;top:618.80px;width:181.20px;height:66.50px;box-sizing:border-box;background:#fff;box-shadow:0 1px 2.5px rgba(0,0,0,.17);"></div><div style="position:absolute;left:550.00px;top:618.80px;width:181.20px;height:4.30px;box-sizing:border-box;background:#0b5aa6;"></div><svg class="abs" style="left:558.20px;top:632.40px" width="10.60" height="10.60" viewBox="0 0 20 20"><defs><linearGradient id="ig" x1="0" y1="0" x2="0" y2="1"><stop offset="0" stop-color="#8daccb"/><stop offset="1" stop-color="#5d84ab"/></linearGradient></defs><rect x="0.5" y="0.5" width="19" height="19" rx="3.4" fill="url(#ig)" stroke="#6f93b8" stroke-width="1"/><rect x="8.9" y="7.6" width="2.2" height="8.6" fill="#dbe9f7"/><rect x="8.9" y="3.8" width="2.2" height="2.4" fill="#dbe9f7"/></svg><div style="position:absolute;top:633.00px;font-size:9.80px;line-height:1;white-space:nowrap;color:#111;letter-spacing:-0.003px;font-weight:700;left:572.90px;-webkit-text-stroke:0.20px #111;">Error Messages</div><div style="position:absolute;top:648.00px;font-size:7.25px;line-height:1;white-space:nowrap;color:#727272;left:563.30px;">•</div><div style="position:absolute;top:648.00px;font-size:7.25px;line-height:1;white-space:nowrap;color:#727272;letter-spacing:-0.007px;left:569.20px;-webkit-text-stroke:0.08px #727272;">If an error message is shown on a cell, this</div><div style="position:absolute;top:658.00px;font-size:7.25px;line-height:1;white-space:nowrap;color:#727272;letter-spacing:-0.009px;left:569.20px;-webkit-text-stroke:0.08px #727272;">error should remain until to the user has edited</div><div style="position:absolute;top:668.00px;font-size:7.25px;line-height:1;white-space:nowrap;color:#727272;letter-spacing:-0.041px;left:569.20px;-webkit-text-stroke:0.08px #727272;">the content of the cell.</div>
<div style="position:absolute;left:752.00px;top:618.80px;width:181.30px;height:87.00px;box-sizing:border-box;background:#fff;box-shadow:0 1px 2.5px rgba(0,0,0,.17);"></div><div style="position:absolute;left:752.00px;top:618.80px;width:181.30px;height:4.30px;box-sizing:border-box;background:#0b5aa6;"></div><svg class="abs" style="left:760.20px;top:632.40px" width="10.60" height="10.60" viewBox="0 0 20 20"><defs><linearGradient id="ig" x1="0" y1="0" x2="0" y2="1"><stop offset="0" stop-color="#8daccb"/><stop offset="1" stop-color="#5d84ab"/></linearGradient></defs><rect x="0.5" y="0.5" width="19" height="19" rx="3.4" fill="url(#ig)" stroke="#6f93b8" stroke-width="1"/><rect x="8.9" y="7.6" width="2.2" height="8.6" fill="#dbe9f7"/><rect x="8.9" y="3.8" width="2.2" height="2.4" fill="#dbe9f7"/></svg><div style="position:absolute;top:633.00px;font-size:9.80px;line-height:1;white-space:nowrap;color:#111;letter-spacing:0.007px;font-weight:700;left:774.90px;-webkit-text-stroke:0.20px #111;">Prompt Text/Editing</div><div style="position:absolute;top:648.00px;font-size:7.25px;line-height:1;white-space:nowrap;color:#727272;left:765.30px;">•</div><div style="position:absolute;top:648.00px;font-size:7.25px;line-height:1;white-space:nowrap;color:#727272;letter-spacing:0.006px;left:771.20px;-webkit-text-stroke:0.08px #727272;">Prompt text shows when the cell is being</div><div style="position:absolute;top:658.00px;font-size:7.25px;line-height:1;white-space:nowrap;color:#727272;letter-spacing:-0.005px;left:771.20px;-webkit-text-stroke:0.08px #727272;">edited, and there is no content in the cell.</div><div style="position:absolute;top:668.00px;font-size:7.25px;line-height:1;white-space:nowrap;color:#727272;left:765.30px;">•</div><div style="position:absolute;top:668.00px;font-size:7.25px;line-height:1;white-space:nowrap;color:#727272;letter-spacing:0.002px;left:771.20px;-webkit-text-stroke:0.08px #727272;">If the user selects a cell which is already active</div><div style="position:absolute;top:679.00px;font-size:7.25px;line-height:1;white-space:nowrap;color:#727272;letter-spacing:-0.006px;left:771.20px;-webkit-text-stroke:0.08px #727272;">then they should be able to edit the existing</div><div style="position:absolute;top:689.00px;font-size:7.25px;line-height:1;white-space:nowrap;color:#727272;letter-spacing:-0.005px;left:771.20px;-webkit-text-stroke:0.08px #727272;">content within the cell</div>
<div style="position:absolute;top:750.00px;font-size:16.00px;line-height:1;white-space:nowrap;color:#000;letter-spacing:0.681px;font-weight:700;left:550.00px;-webkit-text-stroke:0.45px #000;">Text/Numerical Input</div>
<div style="position:absolute;top:773.00px;font-size:6.10px;line-height:1;white-space:nowrap;color:#5c5c5c;letter-spacing:-0.018px;left:550.00px;-webkit-text-stroke:0.12px #5c5c5c;">Used when the cell is editable text or numbers. The label should tell the user</div>
<div style="position:absolute;top:780.00px;font-size:6.10px;line-height:1;white-space:nowrap;color:#5c5c5c;letter-spacing:0.041px;left:550.00px;-webkit-text-stroke:0.12px #5c5c5c;">the type of expected entry.</div>
<div style="position:absolute;top:810.00px;font-size:12.30px;line-height:1;white-space:nowrap;color:#111;letter-spacing:-0.118px;font-weight:700;left:550.00px;-webkit-text-stroke:0.30px #111;">Single Cell</div>
<div style="position:absolute;top:810.00px;font-size:12.30px;line-height:1;white-space:nowrap;color:#111;letter-spacing:0.419px;font-weight:700;left:868.00px;-webkit-text-stroke:0.30px #111;">Stack</div>
<div style="position:absolute;top:835.00px;font-size:8.00px;line-height:1;white-space:nowrap;color:#111;letter-spacing:0.091px;font-weight:700;left:550.00px;-webkit-text-stroke:0.30px #111;">Demo</div>
<div style="position:absolute;top:835.00px;font-size:8.00px;line-height:1;white-space:nowrap;color:#111;letter-spacing:0.091px;font-weight:700;left:868.00px;-webkit-text-stroke:0.30px #111;">Demo</div>
<div style="position:absolute;left:550.00px;top:853.00px;width:177.50px;height:28.20px;box-sizing:border-box;background:#fff;border-radius:7px;"></div><svg class="abs" style="left:559.20px;top:862.30px" width="9.40" height="9.40" viewBox="0 0 20 20"><rect x="0" y="0" width="20" height="20" rx="5" fill="#668494"/><rect x="5.9" y="5.9" width="8.2" height="8.2" rx="3" fill="#fff"/></svg><div style="position:absolute;top:863.00px;font-size:8.60px;line-height:1;white-space:nowrap;color:#636363;letter-spacing:0.039px;left:572.80px;-webkit-text-stroke:0.12px #636363;">Label</div><div style="position:absolute;top:885.00px;font-size:6.70px;line-height:1;white-space:nowrap;color:#7b7b7b;letter-spacing:0.222px;left:558.70px;-webkit-text-stroke:0.10px #7b7b7b;">Footnote</div><div style="position:absolute;top:885.00px;font-size:6.70px;line-height:1;white-space:nowrap;color:#757575;letter-spacing:0.187px;left:705.80px;-webkit-text-stroke:0.10px #757575;">0/20</div>
<div style="position:absolute;top:918.00px;font-size:8.00px;line-height:1;white-space:nowrap;color:#111;letter-spacing:0.124px;font-weight:700;left:550.00px;-webkit-text-stroke:0.30px #111;">Components</div>
<div style="position:absolute;top:1024.00px;font-size:8.00px;line-height:1;white-space:nowrap;color:#111;letter-spacing:0.124px;font-weight:700;left:868.00px;-webkit-text-stroke:0.30px #111;">Components</div>
<svg class="abs" style="left:550.00px;top:936.00px;overflow:visible" width="198.50" height="556.60"><rect x="0.5" y="0.5" width="197.50" height="555.60" rx="3.5" fill="none" stroke="#b9b4e2" stroke-width="1.35" stroke-dasharray="5.3 2.5"/></svg>
<div style="position:absolute;left:560.00px;top:946.40px;width:178.00px;height:28.20px;box-sizing:border-box;background:#fff;border-radius:7px;"></div><svg class="abs" style="left:569.20px;top:955.70px" width="9.40" height="9.40" viewBox="0 0 20 20"><rect x="0" y="0" width="20" height="20" rx="5" fill="#668494"/><rect x="5.9" y="5.9" width="8.2" height="8.2" rx="3" fill="#fff"/></svg><div style="position:absolute;top:957.00px;font-size:8.60px;line-height:1;white-space:nowrap;color:#636363;letter-spacing:0.039px;left:582.80px;-webkit-text-stroke:0.12px #636363;">Label</div><div style="position:absolute;top:979.00px;font-size:6.70px;line-height:1;white-space:nowrap;color:#7b7b7b;letter-spacing:0.222px;left:568.70px;-webkit-text-stroke:0.10px #7b7b7b;">Footnote</div><div style="position:absolute;top:979.00px;font-size:6.70px;line-height:1;white-space:nowrap;color:#757575;letter-spacing:0.187px;left:715.80px;-webkit-text-stroke:0.10px #757575;">0/20</div>
<div style="position:absolute;left:560.00px;top:996.08px;width:178.00px;height:28.20px;box-sizing:border-box;background:#f8f8f8;border-radius:7px;box-shadow:0 0 0 0.6px rgba(0,0,0,.018),0 0.5px 1.2px rgba(0,0,0,.035);"></div><svg class="abs" style="left:569.20px;top:1005.38px" width="9.40" height="9.40" viewBox="0 0 20 20"><rect x="0" y="0" width="20" height="20" rx="5" fill="#668494"/><rect x="5.9" y="5.9" width="8.2" height="8.2" rx="3" fill="#fff"/></svg><div style="position:absolute;top:1006.00px;font-size:8.60px;line-height:1;white-space:nowrap;color:#636363;letter-spacing:0.039px;left:582.80px;-webkit-text-stroke:0.12px #636363;">Label</div><div style="position:absolute;top:1028.00px;font-size:6.70px;line-height:1;white-space:nowrap;color:#7b7b7b;letter-spacing:0.222px;left:568.70px;-webkit-text-stroke:0.10px #7b7b7b;">Footnote</div><div style="position:absolute;top:1028.00px;font-size:6.70px;line-height:1;white-space:nowrap;color:#757575;letter-spacing:0.187px;left:715.80px;-webkit-text-stroke:0.10px #757575;">0/20</div>
<div style="position:absolute;left:560.00px;top:1045.76px;width:178.00px;height:28.20px;box-sizing:border-box;background:#fff;border-radius:7px;"></div><svg class="abs" style="left:569.20px;top:1055.06px" width="9.40" height="9.40" viewBox="0 0 20 20"><rect x="0" y="0" width="20" height="20" rx="5" fill="#c9264b"/><rect x="5.9" y="5.9" width="8.2" height="8.2" rx="3" fill="#fff"/></svg><div style="position:absolute;top:1056.00px;font-size:8.60px;line-height:1;white-space:nowrap;color:#c23a55;letter-spacing:0.039px;left:582.80px;-webkit-text-stroke:0.12px #c23a55;">Label</div><div style="position:absolute;top:1078.00px;font-size:6.70px;line-height:1;white-space:nowrap;color:#c9506a;letter-spacing:0.089px;left:568.70px;-webkit-text-stroke:0.10px #c9506a;">Error message</div><div style="position:absolute;top:1078.00px;font-size:6.70px;line-height:1;white-space:nowrap;color:#757575;letter-spacing:0.187px;left:715.80px;-webkit-text-stroke:0.10px #757575;">0/20</div>
<div style="position:absolute;left:560.00px;top:1095.44px;width:178.00px;height:28.20px;box-sizing:border-box;background:#fff;border-radius:7px;"></div><svg class="abs" style="left:569.20px;top:1104.74px" width="9.40" height="9.40" viewBox="0 0 20 20"><rect x="0" y="0" width="20" height="20" rx="5" fill="#004d86"/><rect x="5.9" y="5.9" width="8.2" height="8.2" rx="3" fill="#fff"/></svg><div style="position:absolute;top:1106.00px;font-size:8.60px;line-height:1;white-space:nowrap;color:#1d5d9e;letter-spacing:0.039px;left:582.80px;-webkit-text-stroke:0.12px #1d5d9e;">Label</div><div style="position:absolute;top:1128.00px;font-size:6.70px;line-height:1;white-space:nowrap;color:#2a68a6;letter-spacing:0.125px;left:568.70px;-webkit-text-stroke:0.10px #2a68a6;">Info message</div><div style="position:absolute;top:1128.00px;font-size:6.70px;line-height:1;white-space:nowrap;color:#757575;letter-spacing:0.187px;left:715.80px;-webkit-text-stroke:0.10px #757575;">0/20</div>
<div style="position:absolute;left:560.00px;top:1145.12px;width:178.00px;height:28.20px;box-sizing:border-box;background:#fff;border-radius:7px;"></div><svg class="abs" style="left:569.20px;top:1154.42px" width="9.40" height="9.40" viewBox="0 0 20 20"><rect x="0" y="0" width="20" height="20" rx="5" fill="#668494"/><rect x="5.9" y="5.9" width="8.2" height="8.2" rx="3" fill="#fff"/></svg><div style="position:absolute;top:1151.00px;font-size:6.60px;line-height:1;white-space:nowrap;color:#7d7d7d;letter-spacing:0.163px;left:582.80px;">Label</div><div style="position:absolute;top:1161.00px;font-size:8.70px;line-height:1;white-space:nowrap;color:#1f1f1f;letter-spacing:0.031px;left:583.30px;-webkit-text-stroke:0.06px #1f1f1f;">Text Input</div><svg class="abs" style="left:719.00px;top:1154.12px" width="10.40" height="10.40" viewBox="0 0 20 20"><circle cx="10" cy="10" r="10" fill="#6e6e6e"/><path d="M6.6 6.6 L13.4 13.4 M13.4 6.6 L6.6 13.4" stroke="#fff" stroke-width="1.9" stroke-linecap="round" fill="none"/></svg><div style="position:absolute;top:1177.00px;font-size:6.70px;line-height:1;white-space:nowrap;color:#7b7b7b;letter-spacing:0.222px;left:568.70px;-webkit-text-stroke:0.10px #7b7b7b;">Footnote</div><div style="position:absolute;top:1177.00px;font-size:6.70px;line-height:1;white-space:nowrap;color:#757575;letter-spacing:0.187px;left:715.80px;-webkit-text-stroke:0.10px #757575;">0/20</div>
<div style="position:absolute;left:560.00px;top:1194.80px;width:178.00px;height:28.20px;box-sizing:border-box;background:#f8f8f8;border-radius:7px;box-shadow:0 0 0 0.6px rgba(0,0,0,.018),0 0.5px 1.2px rgba(0,0,0,.035);"></div><svg class="abs" style="left:569.20px;top:1204.10px" width="9.40" height="9.40" viewBox="0 0 20 20"><rect x="0" y="0" width="20" height="20" rx="5" fill="#668494"/><rect x="5.9" y="5.9" width="8.2" height="8.2" rx="3" fill="#fff"/></svg><div style="position:absolute;top:1201.00px;font-size:6.60px;line-height:1;white-space:nowrap;color:#7d7d7d;letter-spacing:0.163px;left:582.80px;">Label</div><div style="position:absolute;top:1210.00px;font-size:8.70px;line-height:1;white-space:nowrap;color:#1f1f1f;letter-spacing:0.031px;left:583.30px;-webkit-text-stroke:0.06px #1f1f1f;">Text Input</div><div style="position:absolute;top:1227.00px;font-size:6.70px;line-height:1;white-space:nowrap;color:#7b7b7b;letter-spacing:0.222px;left:568.70px;-webkit-text-stroke:0.10px #7b7b7b;">Footnote</div><div style="position:absolute;top:1227.00px;font-size:6.70px;line-height:1;white-space:nowrap;color:#757575;letter-spacing:0.187px;left:715.80px;-webkit-text-stroke:0.10px #757575;">0/20</div>
<div style="position:absolute;left:560.00px;top:1244.48px;width:178.00px;height:28.20px;box-sizing:border-box;background:#fff;border-radius:7px;"></div><svg class="abs" style="left:569.20px;top:1253.78px" width="9.40" height="9.40" viewBox="0 0 20 20"><rect x="0" y="0" width="20" height="20" rx="5" fill="#c9264b"/><rect x="5.9" y="5.9" width="8.2" height="8.2" rx="3" fill="#fff"/></svg><div style="position:absolute;top:1250.00px;font-size:6.60px;line-height:1;white-space:nowrap;color:#c9506a;letter-spacing:0.163px;left:582.80px;">Label</div><div style="position:absolute;top:1260.00px;font-size:8.70px;line-height:1;white-space:nowrap;color:#b42f4a;letter-spacing:0.031px;left:583.30px;-webkit-text-stroke:0.06px #b42f4a;">Text Input</div><svg class="abs" style="left:719.00px;top:1253.48px" width="10.40" height="10.40" viewBox="0 0 20 20"><circle cx="10" cy="10" r="10" fill="#6e6e6e"/><path d="M6.6 6.6 L13.4 13.4 M13.4 6.6 L6.6 13.4" stroke="#fff" stroke-width="1.9" stroke-linecap="round" fill="none"/></svg><div style="position:absolute;top:1277.00px;font-size:6.70px;line-height:1;white-space:nowrap;color:#c9506a;letter-spacing:0.089px;left:568.70px;-webkit-text-stroke:0.10px #c9506a;">Error message</div><div style="position:absolute;top:1277.00px;font-size:6.70px;line-height:1;white-space:nowrap;color:#757575;letter-spacing:0.187px;left:715.80px;-webkit-text-stroke:0.10px #757575;">0/20</div>
<div style="position:absolute;left:560.00px;top:1294.16px;width:178.00px;height:28.20px;box-sizing:border-box;background:#fff;border-radius:7px;"></div><svg class="abs" style="left:569.20px;top:1303.46px" width="9.40" height="9.40" viewBox="0 0 20 20"><rect x="0" y="0" width="20" height="20" rx="5" fill="#004d86"/><rect x="5.9" y="5.9" width="8.2" height="8.2" rx="3" fill="#fff"/></svg><div style="position:absolute;top:1300.00px;font-size:6.60px;line-height:1;white-space:nowrap;color:#2a68a6;letter-spacing:0.163px;left:582.80px;">Label</div><div style="position:absolute;top:1310.00px;font-size:8.70px;line-height:1;white-space:nowrap;color:#0b4f8a;letter-spacing:0.031px;left:583.30px;-webkit-text-stroke:0.06px #0b4f8a;">Text Input</div><svg class="abs" style="left:719.00px;top:1303.16px" width="10.40" height="10.40" viewBox="0 0 20 20"><circle cx="10" cy="10" r="10" fill="#6e6e6e"/><path d="M6.6 6.6 L13.4 13.4 M13.4 6.6 L6.6 13.4" stroke="#fff" stroke-width="1.9" stroke-linecap="round" fill="none"/></svg><div style="position:absolute;top:1326.00px;font-size:6.70px;line-height:1;white-space:nowrap;color:#2a68a6;letter-spacing:0.125px;left:568.70px;-webkit-text-stroke:0.10px #2a68a6;">Info message</div><div style="position:absolute;top:1326.00px;font-size:6.70px;line-height:1;white-space:nowrap;color:#757575;letter-spacing:0.187px;left:715.80px;-webkit-text-stroke:0.10px #757575;">0/20</div>
<div style="position:absolute;left:560.00px;top:1343.84px;width:178.00px;height:28.20px;box-sizing:border-box;background:#fff;border-radius:7px;"></div><svg class="abs" style="left:569.20px;top:1353.14px" width="9.40" height="9.40" viewBox="0 0 20 20"><rect x="0" y="0" width="20" height="20" rx="5" fill="#668494"/><rect x="5.9" y="5.9" width="8.2" height="8.2" rx="3" fill="#fff"/></svg><div style="position:absolute;top:1350.00px;font-size:6.60px;line-height:1;white-space:nowrap;color:#7d7d7d;letter-spacing:0.163px;left:582.80px;">Label</div><div style="position:absolute;left:583.20px;top:1358.14px;width:0.90px;height:10.20px;box-sizing:border-box;background:#3fa27e;"></div><div style="position:absolute;top:1359.00px;font-size:8.60px;line-height:1;white-space:nowrap;color:#6a6a6a;letter-spacing:0.027px;left:584.20px;">Prompt Text</div><svg class="abs" style="left:719.00px;top:1352.84px" width="10.40" height="10.40" viewBox="0 0 20 20"><circle cx="10" cy="10" r="10" fill="#6e6e6e"/><path d="M6.6 6.6 L13.4 13.4 M13.4 6.6 L6.6 13.4" stroke="#fff" stroke-width="1.9" stroke-linecap="round" fill="none"/></svg><div style="position:absolute;top:1376.00px;font-size:6.70px;line-height:1;white-space:nowrap;color:#7b7b7b;letter-spacing:0.222px;left:568.70px;-webkit-text-stroke:0.10px #7b7b7b;">Footnote</div><div style="position:absolute;top:1376.00px;font-size:6.70px;line-height:1;white-space:nowrap;color:#757575;letter-spacing:0.187px;left:715.80px;-webkit-text-stroke:0.10px #757575;">0/20</div>
<div style="position:absolute;left:560.00px;top:1393.52px;width:178.00px;height:28.20px;box-sizing:border-box;background:#fff;border-radius:7px;"></div><svg class="abs" style="left:569.20px;top:1402.82px" width="9.40" height="9.40" viewBox="0 0 20 20"><rect x="0" y="0" width="20" height="20" rx="5" fill="#668494"/><rect x="5.9" y="5.9" width="8.2" height="8.2" rx="3" fill="#fff"/></svg><div style="position:absolute;top:1399.00px;font-size:6.60px;line-height:1;white-space:nowrap;color:#7d7d7d;letter-spacing:0.163px;left:582.80px;">Label</div><div style="position:absolute;left:583.20px;top:1407.82px;width:0.90px;height:10.20px;box-sizing:border-box;background:#3fa27e;"></div><div style="position:absolute;top:1409.00px;font-size:8.60px;line-height:1;white-space:nowrap;color:#6a6a6a;letter-spacing:0.027px;left:584.20px;">Prompt Text</div><svg class="abs" style="left:719.00px;top:1402.52px" width="10.40" height="10.40" viewBox="0 0 20 20"><circle cx="10" cy="10" r="10" fill="#6e6e6e"/><path d="M6.6 6.6 L13.4 13.4 M13.4 6.6 L6.6 13.4" stroke="#fff" stroke-width="1.9" stroke-linecap="round" fill="none"/></svg><div style="position:absolute;top:1426.00px;font-size:6.70px;line-height:1;white-space:nowrap;color:#c9506a;letter-spacing:0.089px;left:568.70px;-webkit-text-stroke:0.10px #c9506a;">Error message</div><div style="position:absolute;top:1426.00px;font-size:6.70px;line-height:1;white-space:nowrap;color:#757575;letter-spacing:0.187px;left:715.80px;-webkit-text-stroke:0.10px #757575;">0/20</div>
<div style="position:absolute;left:560.00px;top:1443.20px;width:178.00px;height:28.20px;box-sizing:border-box;background:#fff;border-radius:7px;"></div><svg class="abs" style="left:569.20px;top:1452.50px" width="9.40" height="9.40" viewBox="0 0 20 20"><rect x="0" y="0" width="20" height="20" rx="5" fill="#668494"/><rect x="5.9" y="5.9" width="8.2" height="8.2" rx="3" fill="#fff"/></svg><div style="position:absolute;top:1449.00px;font-size:6.60px;line-height:1;white-space:nowrap;color:#7d7d7d;letter-spacing:0.163px;left:582.80px;">Label</div><div style="position:absolute;left:583.20px;top:1457.50px;width:0.90px;height:10.20px;box-sizing:border-box;background:#3fa27e;"></div><div style="position:absolute;top:1459.00px;font-size:8.60px;line-height:1;white-space:nowrap;color:#6a6a6a;letter-spacing:0.027px;left:584.20px;">Prompt Text</div><svg class="abs" style="left:719.00px;top:1452.20px" width="10.40" height="10.40" viewBox="0 0 20 20"><circle cx="10" cy="10" r="10" fill="#6e6e6e"/><path d="M6.6 6.6 L13.4 13.4 M13.4 6.6 L6.6 13.4" stroke="#fff" stroke-width="1.9" stroke-linecap="round" fill="none"/></svg><div style="position:absolute;top:1475.00px;font-size:6.70px;line-height:1;white-space:nowrap;color:#2a68a6;letter-spacing:0.125px;left:568.70px;-webkit-text-stroke:0.10px #2a68a6;">Info message</div><div style="position:absolute;top:1475.00px;font-size:6.70px;line-height:1;white-space:nowrap;color:#757575;letter-spacing:0.187px;left:715.80px;-webkit-text-stroke:0.10px #757575;">0/20</div>
<div style="position:absolute;left:772.20px;top:947.30px;width:1.20px;height:88.80px;box-sizing:border-box;background:#de6a86;"></div><div style="position:absolute;left:772.20px;top:1048.10px;width:1.20px;height:87.50px;box-sizing:border-box;background:#de6a86;"></div><div style="position:absolute;left:768.60px;top:947.30px;width:8.40px;height:1.10px;box-sizing:border-box;background:#de6a86;"></div><div style="position:absolute;left:768.60px;top:1134.50px;width:8.40px;height:1.10px;box-sizing:border-box;background:#de6a86;"></div><div style="position:absolute;top:1039.00px;font-size:6.10px;line-height:1;white-space:nowrap;color:#e0336e;left:772.80px;transform:translateX(-50%);-webkit-text-stroke:0.10px #e0336e;">Inactive</div>
<div style="position:absolute;left:772.20px;top:1146.20px;width:1.20px;height:88.50px;box-sizing:border-box;background:#de6a86;"></div><div style="position:absolute;left:772.20px;top:1246.70px;width:1.20px;height:87.30px;box-sizing:border-box;background:#de6a86;"></div><div style="position:absolute;left:768.60px;top:1146.20px;width:8.40px;height:1.10px;box-sizing:border-box;background:#de6a86;"></div><div style="position:absolute;left:768.60px;top:1332.90px;width:8.40px;height:1.10px;box-sizing:border-box;background:#de6a86;"></div><div style="position:absolute;top:1237.00px;font-size:6.10px;line-height:1;white-space:nowrap;color:#e0336e;left:772.80px;transform:translateX(-50%);-webkit-text-stroke:0.10px #e0336e;">Activated</div>
<div style="position:absolute;left:772.20px;top:1344.20px;width:1.20px;height:65.90px;box-sizing:border-box;background:#de6a86;"></div><div style="position:absolute;left:772.20px;top:1422.10px;width:1.20px;height:63.90px;box-sizing:border-box;background:#de6a86;"></div><div style="position:absolute;left:768.60px;top:1344.20px;width:8.40px;height:1.10px;box-sizing:border-box;background:#de6a86;"></div><div style="position:absolute;left:768.60px;top:1484.90px;width:8.40px;height:1.10px;box-sizing:border-box;background:#de6a86;"></div><div style="position:absolute;top:1413.00px;font-size:6.10px;line-height:1;white-space:nowrap;color:#e0336e;left:772.80px;transform:translateX(-50%);-webkit-text-stroke:0.10px #e0336e;">Focussed</div>
<div style="position:absolute;left:868.00px;top:852.20px;width:178.00px;height:148.85px;box-sizing:border-box;background:#fff;border-radius:7px;"></div><svg class="abs" style="left:877.10px;top:862.10px" width="9.40" height="9.40" viewBox="0 0 20 20"><rect x="0" y="0" width="20" height="20" rx="5" fill="#668494"/><rect x="5.9" y="5.9" width="8.2" height="8.2" rx="3" fill="#fff"/></svg><div style="position:absolute;top:863.00px;font-size:8.60px;line-height:1;white-space:nowrap;color:#636363;letter-spacing:-0.011px;left:891.00px;-webkit-text-stroke:0.12px #636363;">Label</div><div style="position:absolute;left:868.00px;top:881.23px;width:178.00px;height:1.00px;box-sizing:border-box;background:#f7f7f7;"></div><svg class="abs" style="left:877.10px;top:892.03px" width="9.40" height="9.40" viewBox="0 0 20 20"><rect x="0" y="0" width="20" height="20" rx="5" fill="#668494"/><rect x="5.9" y="5.9" width="8.2" height="8.2" rx="3" fill="#fff"/></svg><div style="position:absolute;top:893.00px;font-size:8.60px;line-height:1;white-space:nowrap;color:#636363;letter-spacing:-0.011px;left:891.00px;-webkit-text-stroke:0.12px #636363;">Label</div><div style="position:absolute;left:868.00px;top:911.16px;width:178.00px;height:1.00px;box-sizing:border-box;background:#f7f7f7;"></div><svg class="abs" style="left:877.10px;top:921.96px" width="9.40" height="9.40" viewBox="0 0 20 20"><rect x="0" y="0" width="20" height="20" rx="5" fill="#668494"/><rect x="5.9" y="5.9" width="8.2" height="8.2" rx="3" fill="#fff"/></svg><div style="position:absolute;top:923.00px;font-size:8.60px;line-height:1;white-space:nowrap;color:#636363;letter-spacing:-0.011px;left:891.00px;-webkit-text-stroke:0.12px #636363;">Label</div><div style="position:absolute;left:868.00px;top:941.09px;width:178.00px;height:1.00px;box-sizing:border-box;background:#f7f7f7;"></div><svg class="abs" style="left:877.10px;top:951.89px" width="9.40" height="9.40" viewBox="0 0 20 20"><rect x="0" y="0" width="20" height="20" rx="5" fill="#668494"/><rect x="5.9" y="5.9" width="8.2" height="8.2" rx="3" fill="#fff"/></svg><div style="position:absolute;top:953.00px;font-size:8.60px;line-height:1;white-space:nowrap;color:#636363;letter-spacing:-0.011px;left:891.00px;-webkit-text-stroke:0.12px #636363;">Label</div><div style="position:absolute;left:868.00px;top:971.02px;width:178.00px;height:1.00px;box-sizing:border-box;background:#f7f7f7;"></div><svg class="abs" style="left:877.10px;top:981.82px" width="9.40" height="9.40" viewBox="0 0 20 20"><rect x="0" y="0" width="20" height="20" rx="5" fill="#668494"/><rect x="5.9" y="5.9" width="8.2" height="8.2" rx="3" fill="#fff"/></svg><div style="position:absolute;top:983.00px;font-size:8.60px;line-height:1;white-space:nowrap;color:#636363;letter-spacing:-0.011px;left:891.00px;-webkit-text-stroke:0.12px #636363;">Label</div>
<div style="position:absolute;left:868.00px;top:1041.00px;width:178.00px;height:148.85px;box-sizing:border-box;background:#fff;border-radius:7px;"></div><svg class="abs" style="left:877.10px;top:1050.90px" width="9.40" height="9.40" viewBox="0 0 20 20"><rect x="0" y="0" width="20" height="20" rx="5" fill="#668494"/><rect x="5.9" y="5.9" width="8.2" height="8.2" rx="3" fill="#fff"/></svg><div style="position:absolute;top:1052.00px;font-size:8.60px;line-height:1;white-space:nowrap;color:#636363;letter-spacing:-0.011px;left:891.00px;-webkit-text-stroke:0.12px #636363;">Label</div><div style="position:absolute;left:868.00px;top:1070.03px;width:178.00px;height:1.00px;box-sizing:border-box;background:#f7f7f7;"></div><svg class="abs" style="left:877.10px;top:1080.83px" width="9.40" height="9.40" viewBox="0 0 20 20"><rect x="0" y="0" width="20" height="20" rx="5" fill="#668494"/><rect x="5.9" y="5.9" width="8.2" height="8.2" rx="3" fill="#fff"/></svg><div style="position:absolute;top:1082.00px;font-size:8.60px;line-height:1;white-space:nowrap;color:#636363;letter-spacing:-0.011px;left:891.00px;-webkit-text-stroke:0.12px #636363;">Label</div><div style="position:absolute;left:868.00px;top:1099.96px;width:178.00px;height:1.00px;box-sizing:border-box;background:#f7f7f7;"></div><svg class="abs" style="left:877.10px;top:1110.76px" width="9.40" height="9.40" viewBox="0 0 20 20"><rect x="0" y="0" width="20" height="20" rx="5" fill="#668494"/><rect x="5.9" y="5.9" width="8.2" height="8.2" rx="3" fill="#fff"/></svg><div style="position:absolute;top:1112.00px;font-size:8.60px;line-height:1;white-space:nowrap;color:#636363;letter-spacing:-0.011px;left:891.00px;-webkit-text-stroke:0.12px #636363;">Label</div><div style="position:absolute;left:868.00px;top:1129.89px;width:178.00px;height:1.00px;box-sizing:border-box;background:#f7f7f7;"></div><svg class="abs" style="left:877.10px;top:1140.69px" width="9.40" height="9.40" viewBox="0 0 20 20"><rect x="0" y="0" width="20" height="20" rx="5" fill="#668494"/><rect x="5.9" y="5.9" width="8.2" height="8.2" rx="3" fill="#fff"/></svg><div style="position:absolute;top:1142.00px;font-size:8.60px;line-height:1;white-space:nowrap;color:#636363;letter-spacing:-0.011px;left:891.00px;-webkit-text-stroke:0.12px #636363;">Label</div><div style="position:absolute;left:868.00px;top:1159.82px;width:178.00px;height:1.00px;box-sizing:border-box;background:#f7f7f7;"></div><svg class="abs" style="left:877.10px;top:1170.62px" width="9.40" height="9.40" viewBox="0 0 20 20"><rect x="0" y="0" width="20" height="20" rx="5" fill="#668494"/><rect x="5.9" y="5.9" width="8.2" height="8.2" rx="3" fill="#fff"/></svg><div style="position:absolute;top:1172.00px;font-size:8.60px;line-height:1;white-space:nowrap;color:#636363;letter-spacing:-0.011px;left:891.00px;-webkit-text-stroke:0.12px #636363;">Label</div>
</div></div>
</body></html>
